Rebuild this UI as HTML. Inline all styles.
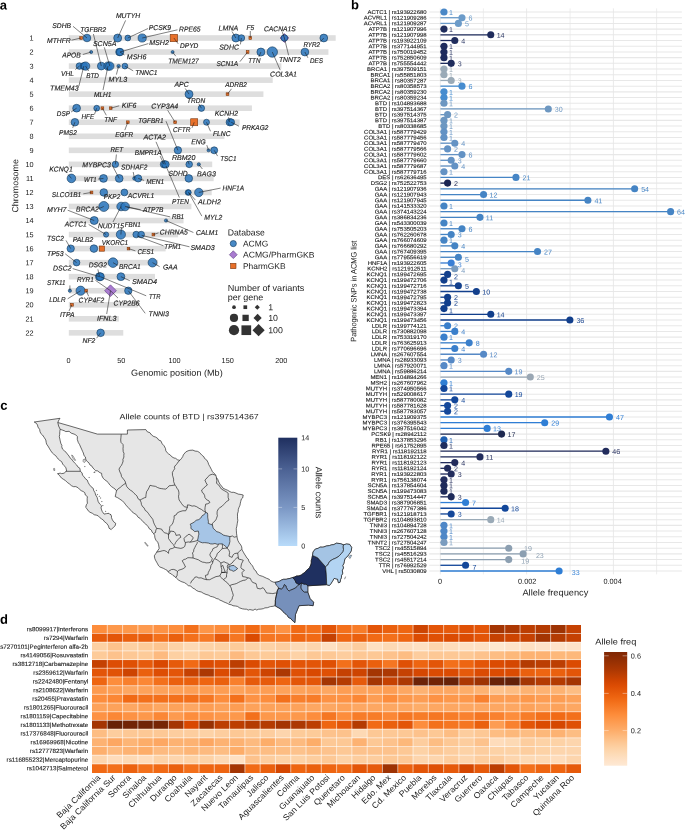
<!DOCTYPE html>
<html><head><meta charset="utf-8"><title>Figure</title>
<style>
html,body{margin:0;padding:0;background:#fff;}
body{width:685px;height:831px;overflow:hidden;font-family:"Liberation Sans",sans-serif;}
svg{display:block;will-change:transform;font-family:"Liberation Sans",sans-serif;fill:#1a1a1a;text-rendering:geometricPrecision;}
</style></head><body>
<svg width="685" height="831" viewBox="0 0 685 831">
<rect width="685" height="831" fill="#fff"/>
<g id="pa">
<text x="-0.3" y="9.5" font-size="13" font-weight="bold" fill="#000" transform="rotate(0.03 -0.3 9.5)">a</text>
<g fill="#dedede">
<rect x="68.8" y="35.2" width="266.89" height="5.6"/>
<rect x="68.8" y="49.24" width="259.63" height="5.6"/>
<rect x="68.8" y="63.28" width="212.58" height="5.6"/>
<rect x="68.8" y="77.32" width="203.91" height="5.6"/>
<rect x="68.8" y="91.36" width="194.61" height="5.6"/>
<rect x="68.8" y="105.4" width="183.11" height="5.6"/>
<rect x="68.8" y="119.44" width="170.82" height="5.6"/>
<rect x="68.8" y="133.48" width="155.59" height="5.6"/>
<rect x="68.8" y="147.52" width="148.35" height="5.6"/>
<rect x="68.8" y="161.56" width="143.43" height="5.6"/>
<rect x="68.8" y="175.6" width="144.82" height="5.6"/>
<rect x="68.8" y="189.64" width="142.88" height="5.6"/>
<rect x="68.8" y="203.68" width="122.59" height="5.6"/>
<rect x="68.8" y="217.72" width="114.75" height="5.6"/>
<rect x="68.8" y="231.76" width="109.33" height="5.6"/>
<rect x="68.8" y="245.8" width="96.84" height="5.6"/>
<rect x="68.8" y="259.84" width="89.25" height="5.6"/>
<rect x="68.8" y="273.88" width="86.16" height="5.6"/>
<rect x="68.8" y="287.92" width="62.84" height="5.6"/>
<rect x="68.8" y="301.96" width="69.08" height="5.6"/>
<rect x="68.8" y="316" width="50.07" height="5.6"/>
<rect x="68.8" y="330.04" width="54.48" height="5.6"/>
</g>
<g font-size="7.3" text-anchor="end">
<text x="33.6" y="40.6" transform="rotate(0.03 33.6 40.6)">1</text>
<text x="33.6" y="54.64" transform="rotate(0.03 33.6 54.64)">2</text>
<text x="33.6" y="68.68" transform="rotate(0.03 33.6 68.68)">3</text>
<text x="33.6" y="82.72" transform="rotate(0.03 33.6 82.72)">4</text>
<text x="33.6" y="96.76" transform="rotate(0.03 33.6 96.76)">5</text>
<text x="33.6" y="110.8" transform="rotate(0.03 33.6 110.8)">6</text>
<text x="33.6" y="124.84" transform="rotate(0.03 33.6 124.84)">7</text>
<text x="33.6" y="138.88" transform="rotate(0.03 33.6 138.88)">8</text>
<text x="33.6" y="152.92" transform="rotate(0.03 33.6 152.92)">9</text>
<text x="33.6" y="166.96" transform="rotate(0.03 33.6 166.96)">10</text>
<text x="33.6" y="181" transform="rotate(0.03 33.6 181)">11</text>
<text x="33.6" y="195.04" transform="rotate(0.03 33.6 195.04)">12</text>
<text x="33.6" y="209.08" transform="rotate(0.03 33.6 209.08)">13</text>
<text x="33.6" y="223.12" transform="rotate(0.03 33.6 223.12)">14</text>
<text x="33.6" y="237.16" transform="rotate(0.03 33.6 237.16)">15</text>
<text x="33.6" y="251.2" transform="rotate(0.03 33.6 251.2)">16</text>
<text x="33.6" y="265.24" transform="rotate(0.03 33.6 265.24)">17</text>
<text x="33.6" y="279.28" transform="rotate(0.03 33.6 279.28)">18</text>
<text x="33.6" y="293.32" transform="rotate(0.03 33.6 293.32)">19</text>
<text x="33.6" y="307.36" transform="rotate(0.03 33.6 307.36)">20</text>
<text x="33.6" y="321.4" transform="rotate(0.03 33.6 321.4)">21</text>
<text x="33.6" y="335.44" transform="rotate(0.03 33.6 335.44)">22</text>
</g>
<text x="18.2" y="185.8" font-size="8.8" text-anchor="middle" textLength="53.6" lengthAdjust="spacingAndGlyphs" transform="rotate(-89.97 18.2 185.8)">Chromosome</text>
<g font-size="7.3" text-anchor="middle">
<text x="68.5" y="363" transform="rotate(0.03 68.5 363)">0</text>
<text x="121.3" y="363" transform="rotate(0.03 121.3 363)">50</text>
<text x="174.5" y="363" transform="rotate(0.03 174.5 363)">100</text>
<text x="227.7" y="363" transform="rotate(0.03 227.7 363)">150</text>
<text x="281.3" y="363" transform="rotate(0.03 281.3 363)">200</text>
</g>
<text x="176.9" y="375.8" font-size="8.8" text-anchor="middle" textLength="91.6" lengthAdjust="spacingAndGlyphs" transform="rotate(0.03 176.9 375.8)">Genomic position (Mb)</text>
<rect x="79.75" y="36.65" width="2.7" height="2.7" fill="#e8702a" stroke="#7a3a12" stroke-width="0.6"/>
<circle cx="87" cy="38" r="3.8" fill="#2a76bd" stroke="#0f3558" stroke-width="0.6" fill-opacity="0.86"/>
<circle cx="117.7" cy="38" r="4" fill="#2a76bd" stroke="#0f3558" stroke-width="0.6" fill-opacity="0.86"/>
<circle cx="127.8" cy="38" r="2.9" fill="#2a76bd" stroke="#0f3558" stroke-width="0.6" fill-opacity="0.86"/>
<circle cx="142.2" cy="38" r="4.1" fill="#2a76bd" stroke="#0f3558" stroke-width="0.6" fill-opacity="0.86"/>
<rect x="170.2" y="34.3" width="7.4" height="7.4" fill="#e8702a" stroke="#7a3a12" stroke-width="0.6"/>
<circle cx="235.9" cy="38" r="4" fill="#2a76bd" stroke="#0f3558" stroke-width="0.6" fill-opacity="0.86"/>
<circle cx="241.4" cy="38" r="3.3" fill="#2a76bd" stroke="#0f3558" stroke-width="0.6" fill-opacity="0.86"/>
<rect x="248.95" y="36.65" width="2.7" height="2.7" fill="#e8702a" stroke="#7a3a12" stroke-width="0.6"/>
<path d="M284.4 33.6L288.8 38L284.4 42.4L280 38z" fill="#a97bd0" stroke="#5b3a80" stroke-width="0.6"/>
<circle cx="284.4" cy="38" r="3.3" fill="#2a76bd" stroke="#0f3558" stroke-width="0.6" fill-opacity="0.86"/>
<circle cx="323.8" cy="38" r="3.9" fill="#2a76bd" stroke="#0f3558" stroke-width="0.6" fill-opacity="0.86"/>
<circle cx="91.2" cy="52.04" r="1.5" fill="#2a76bd" stroke="#0f3558" stroke-width="0.6" fill-opacity="0.86"/>
<circle cx="119.4" cy="52.04" r="3.7" fill="#2a76bd" stroke="#0f3558" stroke-width="0.6" fill-opacity="0.86"/>
<circle cx="120.1" cy="52.04" r="3.7" fill="#2a76bd" stroke="#0f3558" stroke-width="0.6" fill-opacity="0.86"/>
<circle cx="172.6" cy="52.04" r="1.5" fill="#2a76bd" stroke="#0f3558" stroke-width="0.6" fill-opacity="0.86"/>
<rect x="246.25" y="50.69" width="2.7" height="2.7" fill="#e8702a" stroke="#7a3a12" stroke-width="0.6"/>
<circle cx="260.9" cy="52.04" r="4" fill="#2a76bd" stroke="#0f3558" stroke-width="0.6" fill-opacity="0.86"/>
<circle cx="272.3" cy="52.04" r="5.2" fill="#2a76bd" stroke="#0f3558" stroke-width="0.6" fill-opacity="0.86"/>
<circle cx="304.9" cy="52.04" r="3.9" fill="#2a76bd" stroke="#0f3558" stroke-width="0.6" fill-opacity="0.86"/>
<circle cx="79.4" cy="66.08" r="3.3" fill="#2a76bd" stroke="#0f3558" stroke-width="0.6" fill-opacity="0.86"/>
<circle cx="83.8" cy="66.08" r="3.6" fill="#2a76bd" stroke="#0f3558" stroke-width="0.6" fill-opacity="0.86"/>
<circle cx="85.6" cy="66.08" r="4.2" fill="#2a76bd" stroke="#0f3558" stroke-width="0.6" fill-opacity="0.86"/>
<circle cx="101.3" cy="66.08" r="3.9" fill="#2a76bd" stroke="#0f3558" stroke-width="0.6" fill-opacity="0.86"/>
<circle cx="108" cy="66.08" r="4.2" fill="#2a76bd" stroke="#0f3558" stroke-width="0.6" fill-opacity="0.86"/>
<circle cx="109.8" cy="66.08" r="4.2" fill="#2a76bd" stroke="#0f3558" stroke-width="0.6" fill-opacity="0.86"/>
<circle cx="118.6" cy="66.08" r="1.7" fill="#2a76bd" stroke="#0f3558" stroke-width="0.6" fill-opacity="0.86"/>
<circle cx="124.9" cy="66.08" r="2.9" fill="#2a76bd" stroke="#0f3558" stroke-width="0.6" fill-opacity="0.86"/>
<circle cx="189" cy="94.16" r="4" fill="#2a76bd" stroke="#0f3558" stroke-width="0.6" fill-opacity="0.86"/>
<rect x="226.15" y="92.81" width="2.7" height="2.7" fill="#e8702a" stroke="#7a3a12" stroke-width="0.6"/>
<circle cx="76.6" cy="108.2" r="3.9" fill="#2a76bd" stroke="#0f3558" stroke-width="0.6" fill-opacity="0.86"/>
<circle cx="96.7" cy="108.2" r="2.9" fill="#2a76bd" stroke="#0f3558" stroke-width="0.6" fill-opacity="0.86"/>
<rect x="101.05" y="106.85" width="2.7" height="2.7" fill="#e8702a" stroke="#7a3a12" stroke-width="0.6"/>
<rect x="109.35" y="106.85" width="2.7" height="2.7" fill="#e8702a" stroke="#7a3a12" stroke-width="0.6"/>
<circle cx="201.4" cy="108.2" r="3.2" fill="#2a76bd" stroke="#0f3558" stroke-width="0.6" fill-opacity="0.86"/>
<circle cx="74.9" cy="122.24" r="3.8" fill="#2a76bd" stroke="#0f3558" stroke-width="0.6" fill-opacity="0.86"/>
<rect x="126.45" y="120.89" width="2.7" height="2.7" fill="#e8702a" stroke="#7a3a12" stroke-width="0.6"/>
<rect x="173.75" y="120.89" width="2.7" height="2.7" fill="#e8702a" stroke="#7a3a12" stroke-width="0.6"/>
<rect x="190.7" y="118.74" width="7" height="7" fill="#e8702a" stroke="#7a3a12" stroke-width="0.6"/>
<circle cx="206.5" cy="122.24" r="3" fill="#2a76bd" stroke="#0f3558" stroke-width="0.6" fill-opacity="0.86"/>
<circle cx="229.8" cy="122.24" r="3.7" fill="#2a76bd" stroke="#0f3558" stroke-width="0.6" fill-opacity="0.86"/>
<circle cx="231.2" cy="122.24" r="3.4" fill="#2a76bd" stroke="#0f3558" stroke-width="0.6" fill-opacity="0.86"/>
<circle cx="177.9" cy="150.32" r="3.7" fill="#2a76bd" stroke="#0f3558" stroke-width="0.6" fill-opacity="0.86"/>
<circle cx="208.5" cy="150.32" r="1.5" fill="#2a76bd" stroke="#0f3558" stroke-width="0.6" fill-opacity="0.86"/>
<circle cx="214.2" cy="150.32" r="3.5" fill="#2a76bd" stroke="#0f3558" stroke-width="0.6" fill-opacity="0.86"/>
<circle cx="115.4" cy="164.36" r="3.2" fill="#2a76bd" stroke="#0f3558" stroke-width="0.6" fill-opacity="0.86"/>
<circle cx="164" cy="164.36" r="3.7" fill="#2a76bd" stroke="#0f3558" stroke-width="0.6" fill-opacity="0.86"/>
<circle cx="165.5" cy="164.36" r="3.7" fill="#2a76bd" stroke="#0f3558" stroke-width="0.6" fill-opacity="0.86"/>
<circle cx="189.2" cy="164.36" r="3.3" fill="#2a76bd" stroke="#0f3558" stroke-width="0.6" fill-opacity="0.86"/>
<circle cx="198.8" cy="164.36" r="1.6" fill="#2a76bd" stroke="#0f3558" stroke-width="0.6" fill-opacity="0.86"/>
<circle cx="71.4" cy="178.4" r="4.3" fill="#2a76bd" stroke="#0f3558" stroke-width="0.6" fill-opacity="0.86"/>
<circle cx="103.5" cy="178.4" r="3.9" fill="#2a76bd" stroke="#0f3558" stroke-width="0.6" fill-opacity="0.86"/>
<circle cx="119.2" cy="178.4" r="3.9" fill="#2a76bd" stroke="#0f3558" stroke-width="0.6" fill-opacity="0.86"/>
<circle cx="134.5" cy="178.4" r="1.8" fill="#2a76bd" stroke="#0f3558" stroke-width="0.6" fill-opacity="0.86"/>
<circle cx="138.2" cy="178.4" r="3.6" fill="#2a76bd" stroke="#0f3558" stroke-width="0.6" fill-opacity="0.86"/>
<circle cx="188.8" cy="178.4" r="3.8" fill="#2a76bd" stroke="#0f3558" stroke-width="0.6" fill-opacity="0.86"/>
<rect x="90.15" y="191.09" width="2.7" height="2.7" fill="#e8702a" stroke="#7a3a12" stroke-width="0.6"/>
<circle cx="103.8" cy="192.44" r="3.8" fill="#2a76bd" stroke="#0f3558" stroke-width="0.6" fill-opacity="0.86"/>
<circle cx="124.4" cy="192.44" r="3.4" fill="#2a76bd" stroke="#0f3558" stroke-width="0.6" fill-opacity="0.86"/>
<circle cx="188" cy="192.44" r="2.8" fill="#2a76bd" stroke="#0f3558" stroke-width="0.6" fill-opacity="0.86"/>
<circle cx="188.6" cy="192.44" r="2.6" fill="#2a76bd" stroke="#0f3558" stroke-width="0.6" fill-opacity="0.86"/>
<circle cx="198.8" cy="192.44" r="4.2" fill="#2a76bd" stroke="#0f3558" stroke-width="0.6" fill-opacity="0.86"/>
<circle cx="103.8" cy="206.48" r="5" fill="#2a76bd" stroke="#0f3558" stroke-width="0.6" fill-opacity="0.86"/>
<circle cx="121.1" cy="206.48" r="4.3" fill="#2a76bd" stroke="#0f3558" stroke-width="0.6" fill-opacity="0.86"/>
<circle cx="125.1" cy="206.48" r="4.3" fill="#2a76bd" stroke="#0f3558" stroke-width="0.6" fill-opacity="0.86"/>
<circle cx="94.2" cy="220.52" r="4" fill="#2a76bd" stroke="#0f3558" stroke-width="0.6" fill-opacity="0.86"/>
<circle cx="166" cy="220.52" r="1.6" fill="#2a76bd" stroke="#0f3558" stroke-width="0.6" fill-opacity="0.86"/>
<circle cx="106.1" cy="234.56" r="2.6" fill="#2a76bd" stroke="#0f3558" stroke-width="0.6" fill-opacity="0.86"/>
<circle cx="120.9" cy="234.56" r="4.6" fill="#2a76bd" stroke="#0f3558" stroke-width="0.6" fill-opacity="0.86"/>
<circle cx="136.2" cy="234.56" r="3.3" fill="#2a76bd" stroke="#0f3558" stroke-width="0.6" fill-opacity="0.86"/>
<circle cx="141.2" cy="234.56" r="3.3" fill="#2a76bd" stroke="#0f3558" stroke-width="0.6" fill-opacity="0.86"/>
<rect x="152.05" y="233.21" width="2.7" height="2.7" fill="#e8702a" stroke="#7a3a12" stroke-width="0.6"/>
<circle cx="70.7" cy="248.6" r="3.7" fill="#2a76bd" stroke="#0f3558" stroke-width="0.6" fill-opacity="0.86"/>
<circle cx="93.9" cy="248.6" r="3.8" fill="#2a76bd" stroke="#0f3558" stroke-width="0.6" fill-opacity="0.86"/>
<rect x="99.3" y="246" width="5.2" height="5.2" fill="#e8702a" stroke="#7a3a12" stroke-width="0.6"/>
<rect x="127.2" y="247.3" width="2.6" height="2.6" fill="#e8702a" stroke="#7a3a12" stroke-width="0.6"/>
<circle cx="76.6" cy="262.64" r="3.3" fill="#2a76bd" stroke="#0f3558" stroke-width="0.6" fill-opacity="0.86"/>
<circle cx="113" cy="262.64" r="4.8" fill="#2a76bd" stroke="#0f3558" stroke-width="0.6" fill-opacity="0.86"/>
<circle cx="152.5" cy="262.64" r="4.4" fill="#2a76bd" stroke="#0f3558" stroke-width="0.6" fill-opacity="0.86"/>
<circle cx="99.5" cy="276.68" r="4" fill="#2a76bd" stroke="#0f3558" stroke-width="0.6" fill-opacity="0.86"/>
<circle cx="100.3" cy="276.68" r="4" fill="#2a76bd" stroke="#0f3558" stroke-width="0.6" fill-opacity="0.86"/>
<circle cx="120.9" cy="276.68" r="3.9" fill="#2a76bd" stroke="#0f3558" stroke-width="0.6" fill-opacity="0.86"/>
<circle cx="69.9" cy="290.72" r="1.6" fill="#2a76bd" stroke="#0f3558" stroke-width="0.6" fill-opacity="0.86"/>
<circle cx="80.6" cy="290.72" r="4.6" fill="#2a76bd" stroke="#0f3558" stroke-width="0.6" fill-opacity="0.86"/>
<rect x="84.9" y="289.42" width="2.6" height="2.6" fill="#e8702a" stroke="#7a3a12" stroke-width="0.6"/>
<path d="M110.5 284.82L116.4 290.72L110.5 296.62L104.6 290.72z" fill="#a97bd0" stroke="#5b3a80" stroke-width="0.6"/>
<circle cx="128.3" cy="290.72" r="3.7" fill="#2a76bd" stroke="#0f3558" stroke-width="0.6" fill-opacity="0.86"/>
<rect x="70.5" y="303.36" width="2.8" height="2.8" fill="#e8702a" stroke="#7a3a12" stroke-width="0.6"/>
<circle cx="100.6" cy="332.84" r="3.8" fill="#2a76bd" stroke="#0f3558" stroke-width="0.6" fill-opacity="0.86"/>
<g stroke="#1a1a1a" stroke-width="0.55" fill="none">
<path d="M73 26.3L87 38"/>
<path d="M71.5 40.2L81.1 38"/>
<path d="M125.6 20.4L117.7 38"/>
<path d="M93.4 34L101.3 66.08"/>
<path d="M104.3 47.3L109.8 66.08"/>
<path d="M82.8 54.5L91.2 52.04"/>
<path d="M124.5 55L120.1 52.04"/>
<path d="M148.3 43.6L120.1 52.04"/>
<path d="M148 28.5L127.8 38"/>
<path d="M177.5 29.8L142.2 38"/>
<path d="M178.2 43.8L173.9 38"/>
<path d="M175.8 56.2L172.6 52.04"/>
<path d="M232 31.5L235.9 38"/>
<path d="M240.4 44.4L241.4 38"/>
<path d="M250.3 31L250.3 38"/>
<path d="M239.9 61.7L247.6 52.04"/>
<path d="M258.9 57L260.9 52.04"/>
<path d="M282.4 32.2L284.4 38"/>
<path d="M288.6 55.3L284.4 38"/>
<path d="M320.5 41.6L323.8 38"/>
<path d="M280.2 70.1L272.3 52.04"/>
<path d="M307.9 57.8L304.9 52.04"/>
<path d="M75.3 69.6L79.4 66.08"/>
<path d="M88.7 71L85.6 66.08"/>
<path d="M133.2 70.8L124.9 66.08"/>
<path d="M116.4 74.6L118.6 66.08"/>
<path d="M78.9 86L83.8 66.08"/>
<path d="M103 90.1L108 66.08"/>
<path d="M185.3 88.5L189 94.16"/>
<path d="M231.5 88.8L227.5 94.16"/>
<path d="M198.8 103.8L201.4 108.2"/>
<path d="M71.1 112L76.6 108.2"/>
<path d="M94.6 114L96.7 108.2"/>
<path d="M106.3 115.3L102.4 108.2"/>
<path d="M119.2 105.8L110.7 108.2"/>
<path d="M167.7 110.3L175.1 122.24"/>
<path d="M72.7 127.9L74.9 122.24"/>
<path d="M124.8 130.1L127.8 122.24"/>
<path d="M166 121.2L177.9 150.32"/>
<path d="M192 127.9L194.2 122.24"/>
<path d="M210.5 131.3L206.5 122.24"/>
<path d="M228.5 117.3L229.8 122.24"/>
<path d="M239 126.2L231.2 122.24"/>
<path d="M156 141.8L165.5 164.36"/>
<path d="M206.8 145.1L208.5 150.32"/>
<path d="M217.6 156.1L214.2 150.32"/>
<path d="M116.4 154.5L115.4 164.36"/>
<path d="M160.1 156L164 164.36"/>
<path d="M187.8 161.1L189.2 164.36"/>
<path d="M202.4 169L198.8 164.36"/>
<path d="M68.2 174.5L71.4 178.4"/>
<path d="M97.9 179.1L103.5 178.4"/>
<path d="M112.2 165.3L119.2 178.4"/>
<path d="M133.2 172L134.5 178.4"/>
<path d="M144.1 180.4L138.2 178.4"/>
<path d="M83.3 193.8L91.5 192.44"/>
<path d="M220.6 188.1L198.8 192.44"/>
<path d="M166 166L179.4 197.6"/>
<path d="M195.4 200.1L188.6 192.44"/>
<path d="M201.8 216.1L188.6 192.44"/>
<path d="M99.1 208.5L103.8 206.48"/>
<path d="M113 222L121.1 206.48"/>
<path d="M140.7 209.7L125.1 206.48"/>
<path d="M126.5 206.9L170.2 216.9"/>
<path d="M67.7 210.2L94.2 220.52"/>
<path d="M88.7 224.5L106.1 234.56"/>
<path d="M121.4 227.8L120.9 234.56"/>
<path d="M193.4 232.5L166 220.52"/>
<path d="M158.5 232.9L153.4 234.56"/>
<path d="M137 236L163.5 245.8"/>
<path d="M141.7 235.4L189.5 246.8"/>
<path d="M66 240.4L70.7 248.6"/>
<path d="M135.4 250.9L128.5 248.6"/>
<path d="M65.2 253.8L76.6 262.64"/>
<path d="M117.5 265.2L113 262.64"/>
<path d="M159.6 266.6L152.5 262.64"/>
<path d="M97.9 269.4L99.5 276.68"/>
<path d="M72.7 268.6L99.5 276.68"/>
<path d="M129.8 280.7L120.9 276.68"/>
<path d="M95.4 280.3L110.5 290.72"/>
<path d="M146.2 295.8L100.3 276.68"/>
<path d="M69.9 285.4L69.9 290.72"/>
<path d="M67.7 298.8L80.6 290.72"/>
<path d="M88.7 296.3L86.2 290.72"/>
<path d="M118 298.1L110.5 290.72"/>
<path d="M145.2 313.3L128.3 290.72"/>
<path d="M106.7 314L110.5 290.72"/>
<path d="M69 311L71.9 304.76"/>
<path d="M96.6 338.2L100.6 332.84"/>
</g>
<g font-size="7" font-style="italic" stroke="#1a1a1a" stroke-width="0.14">
<text x="52.3" y="27.9" textLength="18.7" lengthAdjust="spacingAndGlyphs" transform="rotate(0.03 52.3 27.9)">SDHB</text>
<text x="47" y="43" textLength="23.7" lengthAdjust="spacingAndGlyphs" transform="rotate(0.03 47 43)">MTHFR</text>
<text x="115.9" y="18" textLength="24.3" lengthAdjust="spacingAndGlyphs" transform="rotate(0.03 115.9 18)">MUTYH</text>
<text x="80.3" y="32.1" textLength="26" lengthAdjust="spacingAndGlyphs" transform="rotate(0.03 80.3 32.1)">TGFBR2</text>
<text x="92.9" y="46.1" textLength="23.5" lengthAdjust="spacingAndGlyphs" transform="rotate(0.03 92.9 46.1)">SCN5A</text>
<text x="62.2" y="57.5" textLength="18.6" lengthAdjust="spacingAndGlyphs" transform="rotate(0.03 62.2 57.5)">APOB</text>
<text x="126.8" y="59.2" textLength="19.5" lengthAdjust="spacingAndGlyphs" transform="rotate(0.03 126.8 59.2)">MSH6</text>
<text x="149.2" y="44.9" textLength="19.7" lengthAdjust="spacingAndGlyphs" transform="rotate(0.03 149.2 44.9)">MSH2</text>
<text x="148.7" y="30.1" textLength="22.3" lengthAdjust="spacingAndGlyphs" transform="rotate(0.03 148.7 30.1)">PCSK9</text>
<text x="179" y="31.5" textLength="21.4" lengthAdjust="spacingAndGlyphs" transform="rotate(0.03 179 31.5)">RPE65</text>
<text x="180" y="48.1" textLength="18.4" lengthAdjust="spacingAndGlyphs" transform="rotate(0.03 180 48.1)">DPYD</text>
<text x="168.2" y="63.4" textLength="30.6" lengthAdjust="spacingAndGlyphs" transform="rotate(0.03 168.2 63.4)">TMEM127</text>
<text x="218.6" y="30.6" textLength="19.6" lengthAdjust="spacingAndGlyphs" transform="rotate(0.03 218.6 30.6)">LMNA</text>
<text x="219.2" y="49.4" textLength="19.8" lengthAdjust="spacingAndGlyphs" transform="rotate(0.03 219.2 49.4)">SDHC</text>
<text x="246.6" y="29.8" textLength="7.6" lengthAdjust="spacingAndGlyphs" transform="rotate(0.03 246.6 29.8)">F5</text>
<text x="216.4" y="65.9" textLength="21.8" lengthAdjust="spacingAndGlyphs" transform="rotate(0.03 216.4 65.9)">SCN1A</text>
<text x="248.3" y="63.4" textLength="12.1" lengthAdjust="spacingAndGlyphs" transform="rotate(0.03 248.3 63.4)">TTN</text>
<text x="263.9" y="31.3" textLength="31.9" lengthAdjust="spacingAndGlyphs" transform="rotate(0.03 263.9 31.3)">CACNA1S</text>
<text x="278.9" y="62" textLength="21.9" lengthAdjust="spacingAndGlyphs" transform="rotate(0.03 278.9 62)">TNNT2</text>
<text x="303.4" y="46.6" textLength="16.6" lengthAdjust="spacingAndGlyphs" transform="rotate(0.03 303.4 46.6)">RYR2</text>
<text x="270.1" y="76.6" textLength="26.9" lengthAdjust="spacingAndGlyphs" transform="rotate(0.03 270.1 76.6)">COL3A1</text>
<text x="309.9" y="63.2" textLength="13.1" lengthAdjust="spacingAndGlyphs" transform="rotate(0.03 309.9 63.2)">DES</text>
<text x="61" y="76" textLength="13" lengthAdjust="spacingAndGlyphs" transform="rotate(0.03 61 76)">VHL</text>
<text x="86.2" y="78.2" textLength="12.8" lengthAdjust="spacingAndGlyphs" transform="rotate(0.03 86.2 78.2)">BTD</text>
<text x="135.2" y="74.9" textLength="22.3" lengthAdjust="spacingAndGlyphs" transform="rotate(0.03 135.2 74.9)">TNNC1</text>
<text x="108.5" y="81.7" textLength="18.6" lengthAdjust="spacingAndGlyphs" transform="rotate(0.03 108.5 81.7)">MYL3</text>
<text x="50.1" y="90.6" textLength="28.5" lengthAdjust="spacingAndGlyphs" transform="rotate(0.03 50.1 90.6)">TMEM43</text>
<text x="94" y="96.5" textLength="17.3" lengthAdjust="spacingAndGlyphs" transform="rotate(0.03 94 96.5)">MLH1</text>
<text x="174.4" y="86.8" textLength="14.3" lengthAdjust="spacingAndGlyphs" transform="rotate(0.03 174.4 86.8)">APC</text>
<text x="225.3" y="86.8" textLength="21.6" lengthAdjust="spacingAndGlyphs" transform="rotate(0.03 225.3 86.8)">ADRB2</text>
<text x="187" y="103.2" textLength="18.1" lengthAdjust="spacingAndGlyphs" transform="rotate(0.03 187 103.2)">TRDN</text>
<text x="56.8" y="115.8" textLength="13.1" lengthAdjust="spacingAndGlyphs" transform="rotate(0.03 56.8 115.8)">DSP</text>
<text x="81.5" y="119" textLength="12.7" lengthAdjust="spacingAndGlyphs" transform="rotate(0.03 81.5 119)">HFE</text>
<text x="104.3" y="121.7" textLength="12.6" lengthAdjust="spacingAndGlyphs" transform="rotate(0.03 104.3 121.7)">TNF</text>
<text x="121.8" y="107.8" textLength="14.7" lengthAdjust="spacingAndGlyphs" transform="rotate(0.03 121.8 107.8)">KIF6</text>
<text x="151.2" y="108.6" textLength="27.1" lengthAdjust="spacingAndGlyphs" transform="rotate(0.03 151.2 108.6)">CYP3A4</text>
<text x="59" y="134.9" textLength="17.9" lengthAdjust="spacingAndGlyphs" transform="rotate(0.03 59 134.9)">PMS2</text>
<text x="115.2" y="137.1" textLength="18" lengthAdjust="spacingAndGlyphs" transform="rotate(0.03 115.2 137.1)">EGFR</text>
<text x="138.2" y="123.4" textLength="25.3" lengthAdjust="spacingAndGlyphs" transform="rotate(0.03 138.2 123.4)">TGFBR1</text>
<text x="173" y="132.4" textLength="17.4" lengthAdjust="spacingAndGlyphs" transform="rotate(0.03 173 132.4)">CFTR</text>
<text x="213" y="136" textLength="17.6" lengthAdjust="spacingAndGlyphs" transform="rotate(0.03 213 136)">FLNC</text>
<text x="214.7" y="115.8" textLength="23.5" lengthAdjust="spacingAndGlyphs" transform="rotate(0.03 214.7 115.8)">KCNH2</text>
<text x="241.9" y="130.1" textLength="26.6" lengthAdjust="spacingAndGlyphs" transform="rotate(0.03 241.9 130.1)">PRKAG2</text>
<text x="143.4" y="139.6" textLength="22.6" lengthAdjust="spacingAndGlyphs" transform="rotate(0.03 143.4 139.6)">ACTA2</text>
<text x="191.2" y="144.3" textLength="14.6" lengthAdjust="spacingAndGlyphs" transform="rotate(0.03 191.2 144.3)">ENG</text>
<text x="220.2" y="161.1" textLength="16.3" lengthAdjust="spacingAndGlyphs" transform="rotate(0.03 220.2 161.1)">TSC1</text>
<text x="110.5" y="152.3" textLength="12.6" lengthAdjust="spacingAndGlyphs" transform="rotate(0.03 110.5 152.3)">RET</text>
<text x="134.8" y="154.7" textLength="26.7" lengthAdjust="spacingAndGlyphs" transform="rotate(0.03 134.8 154.7)">BMPR1A</text>
<text x="171.9" y="159.9" textLength="23.5" lengthAdjust="spacingAndGlyphs" transform="rotate(0.03 171.9 159.9)">RBM20</text>
<text x="197.1" y="176.2" textLength="18.8" lengthAdjust="spacingAndGlyphs" transform="rotate(0.03 197.1 176.2)">BAG3</text>
<text x="168.5" y="175.8" textLength="19.3" lengthAdjust="spacingAndGlyphs" transform="rotate(0.03 168.5 175.8)">SDHD</text>
<text x="49.2" y="171.5" textLength="23.5" lengthAdjust="spacingAndGlyphs" transform="rotate(0.03 49.2 171.5)">KCNQ1</text>
<text x="84" y="182.1" textLength="12.7" lengthAdjust="spacingAndGlyphs" transform="rotate(0.03 84 182.1)">WT1</text>
<text x="82.3" y="167.3" textLength="28.5" lengthAdjust="spacingAndGlyphs" transform="rotate(0.03 82.3 167.3)">MYBPC3</text>
<text x="121.1" y="169.5" textLength="26.3" lengthAdjust="spacingAndGlyphs" transform="rotate(0.03 121.1 169.5)">SDHAF2</text>
<text x="146.2" y="184.2" textLength="17.8" lengthAdjust="spacingAndGlyphs" transform="rotate(0.03 146.2 184.2)">MEN1</text>
<text x="51.8" y="196.8" textLength="29.3" lengthAdjust="spacingAndGlyphs" transform="rotate(0.03 51.8 196.8)">SLCO1B1</text>
<text x="103.8" y="199.3" textLength="16.4" lengthAdjust="spacingAndGlyphs" transform="rotate(0.03 103.8 199.3)">PKP2</text>
<text x="127.8" y="198.1" textLength="26.4" lengthAdjust="spacingAndGlyphs" transform="rotate(0.03 127.8 198.1)">ACVRL1</text>
<text x="222.6" y="190.5" textLength="21.5" lengthAdjust="spacingAndGlyphs" transform="rotate(0.03 222.6 190.5)">HNF1A</text>
<text x="171.9" y="203.8" textLength="17.1" lengthAdjust="spacingAndGlyphs" transform="rotate(0.03 171.9 203.8)">PTEN</text>
<text x="197.9" y="204.3" textLength="23" lengthAdjust="spacingAndGlyphs" transform="rotate(0.03 197.9 204.3)">ALDH2</text>
<text x="204.3" y="219.8" textLength="18" lengthAdjust="spacingAndGlyphs" transform="rotate(0.03 204.3 219.8)">MYL2</text>
<text x="76.1" y="211.5" textLength="22.7" lengthAdjust="spacingAndGlyphs" transform="rotate(0.03 76.1 211.5)">BRCA2</text>
<text x="97.9" y="228.2" textLength="26" lengthAdjust="spacingAndGlyphs" transform="rotate(0.03 97.9 228.2)">NUDT15</text>
<text x="143" y="211.9" textLength="20.5" lengthAdjust="spacingAndGlyphs" transform="rotate(0.03 143 211.9)">ATP7B</text>
<text x="171.9" y="219.4" textLength="12.1" lengthAdjust="spacingAndGlyphs" transform="rotate(0.03 171.9 219.4)">RB1</text>
<text x="47" y="211.9" textLength="19.5" lengthAdjust="spacingAndGlyphs" transform="rotate(0.03 47 211.9)">MYH7</text>
<text x="64.8" y="226.5" textLength="21.9" lengthAdjust="spacingAndGlyphs" transform="rotate(0.03 64.8 226.5)">ACTC1</text>
<text x="124.8" y="226.5" textLength="15.9" lengthAdjust="spacingAndGlyphs" transform="rotate(0.03 124.8 226.5)">FBN1</text>
<text x="195.9" y="235" textLength="22.2" lengthAdjust="spacingAndGlyphs" transform="rotate(0.03 195.9 235)">CALM1</text>
<text x="159.8" y="234.5" textLength="28" lengthAdjust="spacingAndGlyphs" transform="rotate(0.03 159.8 234.5)">CHRNA5</text>
<text x="164.3" y="249.4" textLength="16.8" lengthAdjust="spacingAndGlyphs" transform="rotate(0.03 164.3 249.4)">TPM1</text>
<text x="190.4" y="250" textLength="24.3" lengthAdjust="spacingAndGlyphs" transform="rotate(0.03 190.4 250)">SMAD3</text>
<text x="47" y="240.8" textLength="17" lengthAdjust="spacingAndGlyphs" transform="rotate(0.03 47 240.8)">TSC2</text>
<text x="72.7" y="242.1" textLength="20.7" lengthAdjust="spacingAndGlyphs" transform="rotate(0.03 72.7 242.1)">PALB2</text>
<text x="101.8" y="244.9" textLength="26.3" lengthAdjust="spacingAndGlyphs" transform="rotate(0.03 101.8 244.9)">VKORC1</text>
<text x="137.4" y="254" textLength="16.8" lengthAdjust="spacingAndGlyphs" transform="rotate(0.03 137.4 254)">CES1</text>
<text x="47" y="256" textLength="16.5" lengthAdjust="spacingAndGlyphs" transform="rotate(0.03 47 256)">TP53</text>
<text x="118.9" y="269.1" textLength="21.8" lengthAdjust="spacingAndGlyphs" transform="rotate(0.03 118.9 269.1)">BRCA1</text>
<text x="163" y="269.4" textLength="14.6" lengthAdjust="spacingAndGlyphs" transform="rotate(0.03 163 269.4)">GAA</text>
<text x="88.7" y="267.2" textLength="18.4" lengthAdjust="spacingAndGlyphs" transform="rotate(0.03 88.7 267.2)">DSG2</text>
<text x="53.1" y="270.6" textLength="18.5" lengthAdjust="spacingAndGlyphs" transform="rotate(0.03 53.1 270.6)">DSC2</text>
<text x="131.9" y="284" textLength="25.1" lengthAdjust="spacingAndGlyphs" transform="rotate(0.03 131.9 284)">SMAD4</text>
<text x="76.9" y="282" textLength="16.8" lengthAdjust="spacingAndGlyphs" transform="rotate(0.03 76.9 282)">RYR1</text>
<text x="149" y="299.3" textLength="11.4" lengthAdjust="spacingAndGlyphs" transform="rotate(0.03 149 299.3)">TTR</text>
<text x="47" y="285" textLength="18.5" lengthAdjust="spacingAndGlyphs" transform="rotate(0.03 47 285)">STK11</text>
<text x="49.2" y="302.1" textLength="16.3" lengthAdjust="spacingAndGlyphs" transform="rotate(0.03 49.2 302.1)">LDLR</text>
<text x="78.6" y="302.5" textLength="25.7" lengthAdjust="spacingAndGlyphs" transform="rotate(0.03 78.6 302.5)">CYP4F2</text>
<text x="113.5" y="305.6" textLength="26" lengthAdjust="spacingAndGlyphs" transform="rotate(0.03 113.5 305.6)">CYP2B6</text>
<text x="148.6" y="316.2" textLength="20.4" lengthAdjust="spacingAndGlyphs" transform="rotate(0.03 148.6 316.2)">TNNI3</text>
<text x="97" y="320.8" textLength="19.5" lengthAdjust="spacingAndGlyphs" transform="rotate(0.03 97 320.8)">IFNL3</text>
<text x="59.9" y="316.9" textLength="14.5" lengthAdjust="spacingAndGlyphs" transform="rotate(0.03 59.9 316.9)">ITPA</text>
<text x="82.5" y="342.9" textLength="12.9" lengthAdjust="spacingAndGlyphs" transform="rotate(0.03 82.5 342.9)">NF2</text>
</g>
<text x="227.8" y="235.5" font-size="8.8" textLength="37" lengthAdjust="spacingAndGlyphs" transform="rotate(0.03 227.8 235.5)">Database</text>
<circle cx="233.3" cy="243.6" r="3.1" fill="#2a76bd" stroke="#0f3558" stroke-width="0.6" fill-opacity="0.86"/>
<path d="M233.3 250.8L237.2 254.7L233.3 258.6L229.4 254.7z" fill="#a97bd0" stroke="#5b3a80" stroke-width="0.6"/>
<rect x="230.6" y="263.3" width="5.4" height="5.4" fill="#e8702a" stroke="#7a3a12" stroke-width="0.6"/>
<text x="243" y="246.5" font-size="8.3" textLength="25.3" lengthAdjust="spacingAndGlyphs" transform="rotate(0.03 243 246.5)">ACMG</text>
<text x="243" y="257.6" font-size="8.3" textLength="71.5" lengthAdjust="spacingAndGlyphs" transform="rotate(0.03 243 257.6)">ACMG/PharmGKB</text>
<text x="243" y="268.9" font-size="8.3" textLength="42.5" lengthAdjust="spacingAndGlyphs" transform="rotate(0.03 243 268.9)">PharmGKB</text>
<text x="227.8" y="290.9" font-size="8.8" textLength="76.5" lengthAdjust="spacingAndGlyphs" transform="rotate(0.03 227.8 290.9)">Number of variants</text>
<text x="227.8" y="300.3" font-size="8.8" textLength="35.5" lengthAdjust="spacingAndGlyphs" transform="rotate(0.03 227.8 300.3)">per gene</text>
<circle cx="234" cy="307.2" r="1.85" fill="#333333" stroke="#333333" stroke-width="0"/>
<rect x="243.45" y="305.35" width="3.7" height="3.7" fill="#333333" stroke="#333333" stroke-width="0"/>
<path d="M257.3 304.65L259.85 307.2L257.3 309.75L254.75 307.2z" fill="#333333" stroke="#333333" stroke-width="0"/>
<text x="268.2" y="310.3" font-size="8.8" transform="rotate(0.03 268.2 310.3)">1</text>
<circle cx="234" cy="317.9" r="4.1" fill="#333333" stroke="#333333" stroke-width="0"/>
<rect x="242.45" y="314.75" width="6.3" height="6.3" fill="#333333" stroke="#333333" stroke-width="0"/>
<path d="M257.6 313.8L261.7 317.9L257.6 322L253.5 317.9z" fill="#333333" stroke="#333333" stroke-width="0"/>
<text x="268.2" y="321" font-size="8.8" transform="rotate(0.03 268.2 321)">10</text>
<circle cx="234" cy="330.2" r="5.1" fill="#333333" stroke="#333333" stroke-width="0"/>
<rect x="241.45" y="325.35" width="9.7" height="9.7" fill="#333333" stroke="#333333" stroke-width="0"/>
<path d="M258.6 324.1L264.7 330.2L258.6 336.3L252.5 330.2z" fill="#333333" stroke="#333333" stroke-width="0"/>
<text x="268.2" y="333.3" font-size="8.8" transform="rotate(0.03 268.2 333.3)">100</text>
</g>
<g id="pb">
<text x="351" y="9.2" font-size="13" font-weight="bold" fill="#000" transform="rotate(0.03 351 9.2)">b</text>
<g stroke="#e8e8e8" stroke-width="1.05">
<path d="M429.2 12H681.9"/>
<path d="M429.2 17.7H681.9"/>
<path d="M429.2 23.41H681.9"/>
<path d="M429.2 29.11H681.9"/>
<path d="M429.2 34.82H681.9"/>
<path d="M429.2 40.52H681.9"/>
<path d="M429.2 46.22H681.9"/>
<path d="M429.2 51.93H681.9"/>
<path d="M429.2 57.63H681.9"/>
<path d="M429.2 63.34H681.9"/>
<path d="M429.2 69.04H681.9"/>
<path d="M429.2 74.74H681.9"/>
<path d="M429.2 80.45H681.9"/>
<path d="M429.2 86.15H681.9"/>
<path d="M429.2 91.86H681.9"/>
<path d="M429.2 97.56H681.9"/>
<path d="M429.2 103.26H681.9"/>
<path d="M429.2 108.97H681.9"/>
<path d="M429.2 114.67H681.9"/>
<path d="M429.2 120.38H681.9"/>
<path d="M429.2 126.08H681.9"/>
<path d="M429.2 131.78H681.9"/>
<path d="M429.2 137.49H681.9"/>
<path d="M429.2 143.19H681.9"/>
<path d="M429.2 148.9H681.9"/>
<path d="M429.2 154.6H681.9"/>
<path d="M429.2 160.3H681.9"/>
<path d="M429.2 166.01H681.9"/>
<path d="M429.2 171.71H681.9"/>
<path d="M429.2 177.42H681.9"/>
<path d="M429.2 183.12H681.9"/>
<path d="M429.2 188.82H681.9"/>
<path d="M429.2 194.53H681.9"/>
<path d="M429.2 200.23H681.9"/>
<path d="M429.2 205.94H681.9"/>
<path d="M429.2 211.64H681.9"/>
<path d="M429.2 217.34H681.9"/>
<path d="M429.2 223.05H681.9"/>
<path d="M429.2 228.75H681.9"/>
<path d="M429.2 234.46H681.9"/>
<path d="M429.2 240.16H681.9"/>
<path d="M429.2 245.86H681.9"/>
<path d="M429.2 251.57H681.9"/>
<path d="M429.2 257.27H681.9"/>
<path d="M429.2 262.98H681.9"/>
<path d="M429.2 268.68H681.9"/>
<path d="M429.2 274.38H681.9"/>
<path d="M429.2 280.09H681.9"/>
<path d="M429.2 285.79H681.9"/>
<path d="M429.2 291.5H681.9"/>
<path d="M429.2 297.2H681.9"/>
<path d="M429.2 302.9H681.9"/>
<path d="M429.2 308.61H681.9"/>
<path d="M429.2 314.31H681.9"/>
<path d="M429.2 320.02H681.9"/>
<path d="M429.2 325.72H681.9"/>
<path d="M429.2 331.42H681.9"/>
<path d="M429.2 337.13H681.9"/>
<path d="M429.2 342.83H681.9"/>
<path d="M429.2 348.54H681.9"/>
<path d="M429.2 354.24H681.9"/>
<path d="M429.2 359.94H681.9"/>
<path d="M429.2 365.65H681.9"/>
<path d="M429.2 371.35H681.9"/>
<path d="M429.2 377.06H681.9"/>
<path d="M429.2 382.76H681.9"/>
<path d="M429.2 388.46H681.9"/>
<path d="M429.2 394.17H681.9"/>
<path d="M429.2 399.87H681.9"/>
<path d="M429.2 405.58H681.9"/>
<path d="M429.2 411.28H681.9"/>
<path d="M429.2 416.98H681.9"/>
<path d="M429.2 422.69H681.9"/>
<path d="M429.2 428.39H681.9"/>
<path d="M429.2 434.1H681.9"/>
<path d="M429.2 439.8H681.9"/>
<path d="M429.2 445.5H681.9"/>
<path d="M429.2 451.21H681.9"/>
<path d="M429.2 456.91H681.9"/>
<path d="M429.2 462.62H681.9"/>
<path d="M429.2 468.32H681.9"/>
<path d="M429.2 474.02H681.9"/>
<path d="M429.2 479.73H681.9"/>
<path d="M429.2 485.43H681.9"/>
<path d="M429.2 491.14H681.9"/>
<path d="M429.2 496.84H681.9"/>
<path d="M429.2 502.54H681.9"/>
<path d="M429.2 508.25H681.9"/>
<path d="M429.2 513.95H681.9"/>
<path d="M429.2 519.66H681.9"/>
<path d="M429.2 525.36H681.9"/>
<path d="M429.2 531.06H681.9"/>
<path d="M429.2 536.77H681.9"/>
<path d="M429.2 542.47H681.9"/>
<path d="M429.2 548.18H681.9"/>
<path d="M429.2 553.88H681.9"/>
<path d="M429.2 559.58H681.9"/>
<path d="M429.2 565.29H681.9"/>
<path d="M429.2 570.99H681.9"/>
</g>
<g stroke="#e6e6e6">
<path d="M440.3 8.4V574.4" stroke-width="0.85"/>
<path d="M483.4 8.4V574.4" stroke-width="0.7"/>
<path d="M526.6 8.4V574.4" stroke-width="0.85"/>
<path d="M570.1 8.4V574.4" stroke-width="0.7"/>
<path d="M613.4 8.4V574.4" stroke-width="0.85"/>
<path d="M656.6 8.4V574.4" stroke-width="0.7"/>
</g>
<g font-size="5.5" text-anchor="end" fill="#1c1c1c" stroke="#1c1c1c" stroke-width="0.12">
<text x="426.6" y="13.95" textLength="59.16" lengthAdjust="spacingAndGlyphs" transform="rotate(0.03 426.6 13.95)">ACTC1 | rs193922680</text>
<text x="426.6" y="19.65" textLength="62.8" lengthAdjust="spacingAndGlyphs" transform="rotate(0.03 426.6 19.65)">ACVRL1 | rs121909286</text>
<text x="426.6" y="25.36" textLength="62.8" lengthAdjust="spacingAndGlyphs" transform="rotate(0.03 426.6 25.36)">ACVRL1 | rs121909287</text>
<text x="426.6" y="31.06" textLength="58.06" lengthAdjust="spacingAndGlyphs" transform="rotate(0.03 426.6 31.06)">ATP7B | rs121907996</text>
<text x="426.6" y="36.77" textLength="58.06" lengthAdjust="spacingAndGlyphs" transform="rotate(0.03 426.6 36.77)">ATP7B | rs121907998</text>
<text x="426.6" y="42.47" textLength="58.06" lengthAdjust="spacingAndGlyphs" transform="rotate(0.03 426.6 42.47)">ATP7B | rs193922109</text>
<text x="426.6" y="48.17" textLength="58.06" lengthAdjust="spacingAndGlyphs" transform="rotate(0.03 426.6 48.17)">ATP7B | rs377144951</text>
<text x="426.6" y="53.88" textLength="58.06" lengthAdjust="spacingAndGlyphs" transform="rotate(0.03 426.6 53.88)">ATP7B | rs750019452</text>
<text x="426.6" y="59.58" textLength="58.06" lengthAdjust="spacingAndGlyphs" transform="rotate(0.03 426.6 59.58)">ATP7B | rs752850609</text>
<text x="426.6" y="65.29" textLength="58.06" lengthAdjust="spacingAndGlyphs" transform="rotate(0.03 426.6 65.29)">ATP7B | rs755554442</text>
<text x="426.6" y="70.99" textLength="59.49" lengthAdjust="spacingAndGlyphs" transform="rotate(0.03 426.6 70.99)">BRCA1 | rs397509151</text>
<text x="426.6" y="76.69" textLength="56.18" lengthAdjust="spacingAndGlyphs" transform="rotate(0.03 426.6 76.69)">BRCA1 | rs55851803</text>
<text x="426.6" y="82.4" textLength="56.18" lengthAdjust="spacingAndGlyphs" transform="rotate(0.03 426.6 82.4)">BRCA1 | rs80357287</text>
<text x="426.6" y="88.1" textLength="56.18" lengthAdjust="spacingAndGlyphs" transform="rotate(0.03 426.6 88.1)">BRCA2 | rs80358573</text>
<text x="426.6" y="93.81" textLength="56.18" lengthAdjust="spacingAndGlyphs" transform="rotate(0.03 426.6 93.81)">BRCA2 | rs80359230</text>
<text x="426.6" y="99.51" textLength="56.18" lengthAdjust="spacingAndGlyphs" transform="rotate(0.03 426.6 99.51)">BRCA2 | rs80359234</text>
<text x="426.6" y="105.21" textLength="51.54" lengthAdjust="spacingAndGlyphs" transform="rotate(0.03 426.6 105.21)">BTD | rs104893688</text>
<text x="426.6" y="110.92" textLength="51.54" lengthAdjust="spacingAndGlyphs" transform="rotate(0.03 426.6 110.92)">BTD | rs397514367</text>
<text x="426.6" y="116.62" textLength="51.54" lengthAdjust="spacingAndGlyphs" transform="rotate(0.03 426.6 116.62)">BTD | rs397514375</text>
<text x="426.6" y="122.33" textLength="51.54" lengthAdjust="spacingAndGlyphs" transform="rotate(0.03 426.6 122.33)">BTD | rs397514387</text>
<text x="426.6" y="128.03" textLength="48.23" lengthAdjust="spacingAndGlyphs" transform="rotate(0.03 426.6 128.03)">BTD | rs80338685</text>
<text x="426.6" y="133.73" textLength="62.48" lengthAdjust="spacingAndGlyphs" transform="rotate(0.03 426.6 133.73)">COL3A1 | rs587779429</text>
<text x="426.6" y="139.44" textLength="62.48" lengthAdjust="spacingAndGlyphs" transform="rotate(0.03 426.6 139.44)">COL3A1 | rs587779456</text>
<text x="426.6" y="145.14" textLength="62.48" lengthAdjust="spacingAndGlyphs" transform="rotate(0.03 426.6 145.14)">COL3A1 | rs587779470</text>
<text x="426.6" y="150.85" textLength="62.48" lengthAdjust="spacingAndGlyphs" transform="rotate(0.03 426.6 150.85)">COL3A1 | rs587779566</text>
<text x="426.6" y="156.55" textLength="62.48" lengthAdjust="spacingAndGlyphs" transform="rotate(0.03 426.6 156.55)">COL3A1 | rs587779602</text>
<text x="426.6" y="162.25" textLength="62.48" lengthAdjust="spacingAndGlyphs" transform="rotate(0.03 426.6 162.25)">COL3A1 | rs587779660</text>
<text x="426.6" y="167.96" textLength="62.48" lengthAdjust="spacingAndGlyphs" transform="rotate(0.03 426.6 167.96)">COL3A1 | rs587779687</text>
<text x="426.6" y="173.66" textLength="62.48" lengthAdjust="spacingAndGlyphs" transform="rotate(0.03 426.6 173.66)">COL3A1 | rs587779716</text>
<text x="426.6" y="179.37" textLength="48.57" lengthAdjust="spacingAndGlyphs" transform="rotate(0.03 426.6 179.37)">DES | rs62636495</text>
<text x="426.6" y="185.07" textLength="55.85" lengthAdjust="spacingAndGlyphs" transform="rotate(0.03 426.6 185.07)">DSG2 | rs752522753</text>
<text x="426.6" y="190.77" textLength="51.88" lengthAdjust="spacingAndGlyphs" transform="rotate(0.03 426.6 190.77)">GAA | rs121907936</text>
<text x="426.6" y="196.48" textLength="51.88" lengthAdjust="spacingAndGlyphs" transform="rotate(0.03 426.6 196.48)">GAA | rs121907943</text>
<text x="426.6" y="202.18" textLength="51.88" lengthAdjust="spacingAndGlyphs" transform="rotate(0.03 426.6 202.18)">GAA | rs121907945</text>
<text x="426.6" y="207.89" textLength="51.88" lengthAdjust="spacingAndGlyphs" transform="rotate(0.03 426.6 207.89)">GAA | rs141533320</text>
<text x="426.6" y="213.59" textLength="51.88" lengthAdjust="spacingAndGlyphs" transform="rotate(0.03 426.6 213.59)">GAA | rs374143224</text>
<text x="426.6" y="219.29" textLength="51.88" lengthAdjust="spacingAndGlyphs" transform="rotate(0.03 426.6 219.29)">GAA | rs386834236</text>
<text x="426.6" y="225" textLength="51.88" lengthAdjust="spacingAndGlyphs" transform="rotate(0.03 426.6 225)">GAA | rs543300039</text>
<text x="426.6" y="230.7" textLength="51.88" lengthAdjust="spacingAndGlyphs" transform="rotate(0.03 426.6 230.7)">GAA | rs753505203</text>
<text x="426.6" y="236.41" textLength="51.88" lengthAdjust="spacingAndGlyphs" transform="rotate(0.03 426.6 236.41)">GAA | rs762260678</text>
<text x="426.6" y="242.11" textLength="51.88" lengthAdjust="spacingAndGlyphs" transform="rotate(0.03 426.6 242.11)">GAA | rs766074609</text>
<text x="426.6" y="247.81" textLength="51.88" lengthAdjust="spacingAndGlyphs" transform="rotate(0.03 426.6 247.81)">GAA | rs766680292</text>
<text x="426.6" y="253.52" textLength="51.88" lengthAdjust="spacingAndGlyphs" transform="rotate(0.03 426.6 253.52)">GAA | rs767409395</text>
<text x="426.6" y="259.22" textLength="51.88" lengthAdjust="spacingAndGlyphs" transform="rotate(0.03 426.6 259.22)">GAA | rs779556619</text>
<text x="426.6" y="264.93" textLength="58.83" lengthAdjust="spacingAndGlyphs" transform="rotate(0.03 426.6 264.93)">HNF1A | rs193922605</text>
<text x="426.6" y="270.63" textLength="59.38" lengthAdjust="spacingAndGlyphs" transform="rotate(0.03 426.6 270.63)">KCNH2 | rs121912511</text>
<text x="426.6" y="276.33" textLength="60.15" lengthAdjust="spacingAndGlyphs" transform="rotate(0.03 426.6 276.33)">KCNQ1 | rs199472695</text>
<text x="426.6" y="282.04" textLength="60.15" lengthAdjust="spacingAndGlyphs" transform="rotate(0.03 426.6 282.04)">KCNQ1 | rs199472706</text>
<text x="426.6" y="287.74" textLength="60.15" lengthAdjust="spacingAndGlyphs" transform="rotate(0.03 426.6 287.74)">KCNQ1 | rs199472716</text>
<text x="426.6" y="293.45" textLength="60.15" lengthAdjust="spacingAndGlyphs" transform="rotate(0.03 426.6 293.45)">KCNQ1 | rs199472738</text>
<text x="426.6" y="299.15" textLength="60.15" lengthAdjust="spacingAndGlyphs" transform="rotate(0.03 426.6 299.15)">KCNQ1 | rs199472795</text>
<text x="426.6" y="304.85" textLength="60.15" lengthAdjust="spacingAndGlyphs" transform="rotate(0.03 426.6 304.85)">KCNQ1 | rs199472823</text>
<text x="426.6" y="310.56" textLength="60.15" lengthAdjust="spacingAndGlyphs" transform="rotate(0.03 426.6 310.56)">KCNQ1 | rs199473394</text>
<text x="426.6" y="316.26" textLength="60.15" lengthAdjust="spacingAndGlyphs" transform="rotate(0.03 426.6 316.26)">KCNQ1 | rs199473397</text>
<text x="426.6" y="321.97" textLength="60.15" lengthAdjust="spacingAndGlyphs" transform="rotate(0.03 426.6 321.97)">KCNQ1 | rs199473456</text>
<text x="426.6" y="327.67" textLength="54.86" lengthAdjust="spacingAndGlyphs" transform="rotate(0.03 426.6 327.67)">LDLR | rs199774121</text>
<text x="426.6" y="333.37" textLength="54.86" lengthAdjust="spacingAndGlyphs" transform="rotate(0.03 426.6 333.37)">LDLR | rs730882098</text>
<text x="426.6" y="339.08" textLength="54.86" lengthAdjust="spacingAndGlyphs" transform="rotate(0.03 426.6 339.08)">LDLR | rs753319170</text>
<text x="426.6" y="344.78" textLength="54.86" lengthAdjust="spacingAndGlyphs" transform="rotate(0.03 426.6 344.78)">LDLR | rs763625913</text>
<text x="426.6" y="350.49" textLength="54.86" lengthAdjust="spacingAndGlyphs" transform="rotate(0.03 426.6 350.49)">LDLR | rs770696696</text>
<text x="426.6" y="356.19" textLength="55.85" lengthAdjust="spacingAndGlyphs" transform="rotate(0.03 426.6 356.19)">LMNA | rs267607554</text>
<text x="426.6" y="361.89" textLength="52.54" lengthAdjust="spacingAndGlyphs" transform="rotate(0.03 426.6 361.89)">LMNA | rs28933093</text>
<text x="426.6" y="367.6" textLength="52.54" lengthAdjust="spacingAndGlyphs" transform="rotate(0.03 426.6 367.6)">LMNA | rs57920071</text>
<text x="426.6" y="373.3" textLength="52.54" lengthAdjust="spacingAndGlyphs" transform="rotate(0.03 426.6 373.3)">LMNA | rs59886214</text>
<text x="426.6" y="379.01" textLength="56.18" lengthAdjust="spacingAndGlyphs" transform="rotate(0.03 426.6 379.01)">MEN1 | rs104894266</text>
<text x="426.6" y="384.71" textLength="56.18" lengthAdjust="spacingAndGlyphs" transform="rotate(0.03 426.6 384.71)">MSH2 | rs267607962</text>
<text x="426.6" y="390.41" textLength="60.81" lengthAdjust="spacingAndGlyphs" transform="rotate(0.03 426.6 390.41)">MUTYH | rs374950566</text>
<text x="426.6" y="396.12" textLength="60.81" lengthAdjust="spacingAndGlyphs" transform="rotate(0.03 426.6 396.12)">MUTYH | rs529008617</text>
<text x="426.6" y="401.82" textLength="60.81" lengthAdjust="spacingAndGlyphs" transform="rotate(0.03 426.6 401.82)">MUTYH | rs587780082</text>
<text x="426.6" y="407.53" textLength="60.81" lengthAdjust="spacingAndGlyphs" transform="rotate(0.03 426.6 407.53)">MUTYH | rs587781628</text>
<text x="426.6" y="413.23" textLength="60.81" lengthAdjust="spacingAndGlyphs" transform="rotate(0.03 426.6 413.23)">MUTYH | rs587783057</text>
<text x="426.6" y="418.93" textLength="64.13" lengthAdjust="spacingAndGlyphs" transform="rotate(0.03 426.6 418.93)">MYBPC3 | rs121909375</text>
<text x="426.6" y="424.64" textLength="64.13" lengthAdjust="spacingAndGlyphs" transform="rotate(0.03 426.6 424.64)">MYBPC3 | rs376395543</text>
<text x="426.6" y="430.34" textLength="64.13" lengthAdjust="spacingAndGlyphs" transform="rotate(0.03 426.6 430.34)">MYBPC3 | rs397516042</text>
<text x="426.6" y="436.05" textLength="55.41" lengthAdjust="spacingAndGlyphs" transform="rotate(0.03 426.6 436.05)">PCSK9 | rs28942112</text>
<text x="426.6" y="441.75" textLength="51.22" lengthAdjust="spacingAndGlyphs" transform="rotate(0.03 426.6 441.75)">RB1 | rs137853296</text>
<text x="426.6" y="447.45" textLength="55.19" lengthAdjust="spacingAndGlyphs" transform="rotate(0.03 426.6 447.45)">RPE65 | rs61752895</text>
<text x="426.6" y="453.16" textLength="54.53" lengthAdjust="spacingAndGlyphs" transform="rotate(0.03 426.6 453.16)">RYR1 | rs118192118</text>
<text x="426.6" y="458.86" textLength="54.97" lengthAdjust="spacingAndGlyphs" transform="rotate(0.03 426.6 458.86)">RYR1 | rs118192122</text>
<text x="426.6" y="464.57" textLength="54.97" lengthAdjust="spacingAndGlyphs" transform="rotate(0.03 426.6 464.57)">RYR1 | rs118192123</text>
<text x="426.6" y="470.27" textLength="54.97" lengthAdjust="spacingAndGlyphs" transform="rotate(0.03 426.6 470.27)">RYR1 | rs118192124</text>
<text x="426.6" y="475.97" textLength="55.41" lengthAdjust="spacingAndGlyphs" transform="rotate(0.03 426.6 475.97)">RYR1 | rs193922803</text>
<text x="426.6" y="481.68" textLength="55.41" lengthAdjust="spacingAndGlyphs" transform="rotate(0.03 426.6 481.68)">RYR1 | rs756138074</text>
<text x="426.6" y="487.38" textLength="59.16" lengthAdjust="spacingAndGlyphs" transform="rotate(0.03 426.6 487.38)">SCN5A | rs137854604</text>
<text x="426.6" y="493.09" textLength="59.16" lengthAdjust="spacingAndGlyphs" transform="rotate(0.03 426.6 493.09)">SCN5A | rs199473083</text>
<text x="426.6" y="498.79" textLength="59.16" lengthAdjust="spacingAndGlyphs" transform="rotate(0.03 426.6 498.79)">SCN5A | rs397514447</text>
<text x="426.6" y="504.49" textLength="60.15" lengthAdjust="spacingAndGlyphs" transform="rotate(0.03 426.6 504.49)">SMAD3 | rs387906851</text>
<text x="426.6" y="510.2" textLength="60.15" lengthAdjust="spacingAndGlyphs" transform="rotate(0.03 426.6 510.2)">SMAD4 | rs377767386</text>
<text x="426.6" y="515.9" textLength="63.13" lengthAdjust="spacingAndGlyphs" transform="rotate(0.03 426.6 515.9)">TGFBR1 | rs121918713</text>
<text x="426.6" y="521.61" textLength="63.13" lengthAdjust="spacingAndGlyphs" transform="rotate(0.03 426.6 521.61)">TGFBR2 | rs104893810</text>
<text x="426.6" y="527.31" textLength="56.84" lengthAdjust="spacingAndGlyphs" transform="rotate(0.03 426.6 527.31)">TNNI3 | rs104894728</text>
<text x="426.6" y="533.01" textLength="56.84" lengthAdjust="spacingAndGlyphs" transform="rotate(0.03 426.6 533.01)">TNNI3 | rs267607128</text>
<text x="426.6" y="538.72" textLength="56.84" lengthAdjust="spacingAndGlyphs" transform="rotate(0.03 426.6 538.72)">TNNI3 | rs727504242</text>
<text x="426.6" y="544.42" textLength="58.82" lengthAdjust="spacingAndGlyphs" transform="rotate(0.03 426.6 544.42)">TNNT2 | rs727504247</text>
<text x="426.6" y="550.13" textLength="51.54" lengthAdjust="spacingAndGlyphs" transform="rotate(0.03 426.6 550.13)">TSC2 | rs45515894</text>
<text x="426.6" y="555.83" textLength="51.54" lengthAdjust="spacingAndGlyphs" transform="rotate(0.03 426.6 555.83)">TSC2 | rs45516293</text>
<text x="426.6" y="561.53" textLength="51.54" lengthAdjust="spacingAndGlyphs" transform="rotate(0.03 426.6 561.53)">TSC2 | rs45517214</text>
<text x="426.6" y="567.24" textLength="47.9" lengthAdjust="spacingAndGlyphs" transform="rotate(0.03 426.6 567.24)">TTR | rs76992529</text>
<text x="426.6" y="572.94" textLength="44.37" lengthAdjust="spacingAndGlyphs" transform="rotate(0.03 426.6 572.94)">VHL | rs5030809</text>
</g>
<path d="M440.4 12H444" stroke="#4a88c7" stroke-width="1.3"/>
<path d="M440.4 17.7H461.98" stroke="#6b9bc9" stroke-width="1.3"/>
<path d="M440.4 23.41H458.38" stroke="#6b9bc9" stroke-width="1.3"/>
<path d="M440.4 29.11H444" stroke="#1f2c5c" stroke-width="1.3"/>
<path d="M440.4 34.82H490.76" stroke="#1f2c5c" stroke-width="1.3"/>
<path d="M440.4 40.52H454.79" stroke="#1f2c5c" stroke-width="1.3"/>
<path d="M440.4 46.22H444" stroke="#1f2c5c" stroke-width="1.3"/>
<path d="M440.4 51.93H444" stroke="#1f2c5c" stroke-width="1.3"/>
<path d="M440.4 57.63H444" stroke="#1f2c5c" stroke-width="1.3"/>
<path d="M440.4 63.34H451.19" stroke="#1f2c5c" stroke-width="1.3"/>
<path d="M440.4 69.04H444" stroke="#9aaab7" stroke-width="1.3"/>
<path d="M440.4 74.74H444" stroke="#9aaab7" stroke-width="1.3"/>
<path d="M440.4 80.45H451.19" stroke="#9aaab7" stroke-width="1.3"/>
<path d="M440.4 86.15H461.98" stroke="#468ccf" stroke-width="1.3"/>
<path d="M440.4 91.86H444" stroke="#468ccf" stroke-width="1.3"/>
<path d="M440.4 97.56H444" stroke="#468ccf" stroke-width="1.3"/>
<path d="M440.4 103.26H444" stroke="#6d97c1" stroke-width="1.3"/>
<path d="M440.4 108.97H548.31" stroke="#6d97c1" stroke-width="1.3"/>
<path d="M440.4 114.67H447.59" stroke="#6d97c1" stroke-width="1.3"/>
<path d="M440.4 120.38H444" stroke="#6d97c1" stroke-width="1.3"/>
<path d="M440.4 126.08H444" stroke="#6d97c1" stroke-width="1.3"/>
<path d="M440.4 131.78H444" stroke="#6392c4" stroke-width="1.3"/>
<path d="M440.4 137.49H444" stroke="#6392c4" stroke-width="1.3"/>
<path d="M440.4 143.19H454.79" stroke="#6392c4" stroke-width="1.3"/>
<path d="M440.4 148.9H447.59" stroke="#6392c4" stroke-width="1.3"/>
<path d="M440.4 154.6H461.98" stroke="#6392c4" stroke-width="1.3"/>
<path d="M440.4 160.3H451.19" stroke="#6392c4" stroke-width="1.3"/>
<path d="M440.4 166.01H454.79" stroke="#6392c4" stroke-width="1.3"/>
<path d="M440.4 171.71H444" stroke="#6392c4" stroke-width="1.3"/>
<path d="M440.4 177.42H515.94" stroke="#4685c5" stroke-width="1.3"/>
<path d="M440.4 183.12H447.59" stroke="#1a2452" stroke-width="1.3"/>
<path d="M440.4 188.82H634.64" stroke="#4584c4" stroke-width="1.3"/>
<path d="M440.4 194.53H483.56" stroke="#4584c4" stroke-width="1.3"/>
<path d="M440.4 200.23H587.88" stroke="#4584c4" stroke-width="1.3"/>
<path d="M440.4 205.94H444" stroke="#4584c4" stroke-width="1.3"/>
<path d="M440.4 211.64H670.61" stroke="#4584c4" stroke-width="1.3"/>
<path d="M440.4 217.34H479.97" stroke="#4584c4" stroke-width="1.3"/>
<path d="M440.4 223.05H444" stroke="#4584c4" stroke-width="1.3"/>
<path d="M440.4 228.75H461.98" stroke="#4584c4" stroke-width="1.3"/>
<path d="M440.4 234.46H451.19" stroke="#4584c4" stroke-width="1.3"/>
<path d="M440.4 240.16H444" stroke="#4584c4" stroke-width="1.3"/>
<path d="M440.4 245.86H454.79" stroke="#4584c4" stroke-width="1.3"/>
<path d="M440.4 251.57H537.52" stroke="#4584c4" stroke-width="1.3"/>
<path d="M440.4 257.27H458.38" stroke="#4584c4" stroke-width="1.3"/>
<path d="M440.4 262.98H451.19" stroke="#3a7fd5" stroke-width="1.3"/>
<path d="M440.4 268.68H454.79" stroke="#7a9cbf" stroke-width="1.3"/>
<path d="M440.4 274.38H447.59" stroke="#123f8c" stroke-width="1.3"/>
<path d="M440.4 280.09H444" stroke="#123f8c" stroke-width="1.3"/>
<path d="M440.4 285.79H458.38" stroke="#123f8c" stroke-width="1.3"/>
<path d="M440.4 291.5H476.37" stroke="#123f8c" stroke-width="1.3"/>
<path d="M440.4 297.2H447.59" stroke="#123f8c" stroke-width="1.3"/>
<path d="M440.4 302.9H447.59" stroke="#123f8c" stroke-width="1.3"/>
<path d="M440.4 308.61H444" stroke="#123f8c" stroke-width="1.3"/>
<path d="M440.4 314.31H490.76" stroke="#123f8c" stroke-width="1.3"/>
<path d="M440.4 320.02H569.89" stroke="#123f8c" stroke-width="1.3"/>
<path d="M440.4 325.72H447.59" stroke="#3a7fcb" stroke-width="1.3"/>
<path d="M440.4 331.42H454.79" stroke="#3a7fcb" stroke-width="1.3"/>
<path d="M440.4 337.13H444" stroke="#3a7fcb" stroke-width="1.3"/>
<path d="M440.4 342.83H469.18" stroke="#3a7fcb" stroke-width="1.3"/>
<path d="M440.4 348.54H454.79" stroke="#3a7fcb" stroke-width="1.3"/>
<path d="M440.4 354.24H483.56" stroke="#5689c6" stroke-width="1.3"/>
<path d="M440.4 359.94H451.19" stroke="#5689c6" stroke-width="1.3"/>
<path d="M440.4 365.65H444" stroke="#5689c6" stroke-width="1.3"/>
<path d="M440.4 371.35H508.74" stroke="#5689c6" stroke-width="1.3"/>
<path d="M440.4 377.06H530.32" stroke="#9aa7b4" stroke-width="1.3"/>
<path d="M440.4 382.76H444" stroke="#2f7fd4" stroke-width="1.3"/>
<path d="M440.4 388.46H444" stroke="#13479a" stroke-width="1.3"/>
<path d="M440.4 394.17H508.74" stroke="#13479a" stroke-width="1.3"/>
<path d="M440.4 399.87H454.79" stroke="#13479a" stroke-width="1.3"/>
<path d="M440.4 405.58H447.59" stroke="#13479a" stroke-width="1.3"/>
<path d="M440.4 411.28H447.59" stroke="#13479a" stroke-width="1.3"/>
<path d="M440.4 416.98H609.46" stroke="#2f7ed5" stroke-width="1.3"/>
<path d="M440.4 422.69H544.71" stroke="#2f7ed5" stroke-width="1.3"/>
<path d="M440.4 428.39H487.16" stroke="#2f7ed5" stroke-width="1.3"/>
<path d="M440.4 434.1H501.55" stroke="#1e2950" stroke-width="1.3"/>
<path d="M440.4 439.8H444" stroke="#1f5fb0" stroke-width="1.3"/>
<path d="M440.4 445.5H444" stroke="#1f2d5e" stroke-width="1.3"/>
<path d="M440.4 451.21H605.86" stroke="#222c5c" stroke-width="1.3"/>
<path d="M440.4 456.91H479.97" stroke="#222c5c" stroke-width="1.3"/>
<path d="M440.4 462.62H454.79" stroke="#222c5c" stroke-width="1.3"/>
<path d="M440.4 468.32H447.59" stroke="#222c5c" stroke-width="1.3"/>
<path d="M440.4 474.02H451.19" stroke="#222c5c" stroke-width="1.3"/>
<path d="M440.4 479.73H444" stroke="#222c5c" stroke-width="1.3"/>
<path d="M440.4 485.43H444" stroke="#1f2b5a" stroke-width="1.3"/>
<path d="M440.4 491.14H444" stroke="#1f2b5a" stroke-width="1.3"/>
<path d="M440.4 496.84H451.19" stroke="#1f2b5a" stroke-width="1.3"/>
<path d="M440.4 502.54H465.58" stroke="#2f7ed5" stroke-width="1.3"/>
<path d="M440.4 508.25H505.15" stroke="#13479a" stroke-width="1.3"/>
<path d="M440.4 513.95H451.19" stroke="#13479a" stroke-width="1.3"/>
<path d="M440.4 519.66H490.76" stroke="#9aaab7" stroke-width="1.3"/>
<path d="M440.4 525.36H444" stroke="#4f87c7" stroke-width="1.3"/>
<path d="M440.4 531.06H444" stroke="#4f87c7" stroke-width="1.3"/>
<path d="M440.4 536.77H444" stroke="#4f87c7" stroke-width="1.3"/>
<path d="M440.4 542.47H444" stroke="#7a9cbf" stroke-width="1.3"/>
<path d="M440.4 548.18H508.74" stroke="#8c9fb1" stroke-width="1.3"/>
<path d="M440.4 553.88H523.13" stroke="#8c9fb1" stroke-width="1.3"/>
<path d="M440.4 559.58H508.74" stroke="#8c9fb1" stroke-width="1.3"/>
<path d="M440.4 565.29H465.58" stroke="#13479a" stroke-width="1.3"/>
<path d="M440.4 570.99H559.1" stroke="#2f7ed5" stroke-width="1.3"/>
<circle cx="444" cy="12" r="3.55" fill="#4a88c7"/>
<text x="449" y="14.9" font-size="7.1" fill="#4a88c7" transform="rotate(0.03 449 14.9)">1</text>
<circle cx="461.98" cy="17.7" r="3.55" fill="#6b9bc9"/>
<text x="468.48" y="20.6" font-size="7.1" fill="#6b9bc9" transform="rotate(0.03 468.48 20.6)">6</text>
<circle cx="458.38" cy="23.41" r="3.55" fill="#6b9bc9"/>
<text x="464.88" y="26.31" font-size="7.1" fill="#6b9bc9" transform="rotate(0.03 464.88 26.31)">5</text>
<circle cx="444" cy="29.11" r="3.55" fill="#1f2c5c"/>
<text x="449" y="32.01" font-size="7.1" fill="#1f2c5c" transform="rotate(0.03 449 32.01)">1</text>
<circle cx="490.76" cy="34.82" r="3.55" fill="#1f2c5c"/>
<text x="496.66" y="37.72" font-size="7.1" fill="#1f2c5c" transform="rotate(0.03 496.66 37.72)">14</text>
<circle cx="454.79" cy="40.52" r="3.55" fill="#1f2c5c"/>
<text x="461.29" y="43.42" font-size="7.1" fill="#1f2c5c" transform="rotate(0.03 461.29 43.42)">4</text>
<circle cx="444" cy="46.22" r="3.55" fill="#1f2c5c"/>
<text x="449" y="49.12" font-size="7.1" fill="#1f2c5c" transform="rotate(0.03 449 49.12)">1</text>
<circle cx="444" cy="51.93" r="3.55" fill="#1f2c5c"/>
<text x="449" y="54.83" font-size="7.1" fill="#1f2c5c" transform="rotate(0.03 449 54.83)">1</text>
<circle cx="444" cy="57.63" r="3.55" fill="#1f2c5c"/>
<text x="449" y="60.53" font-size="7.1" fill="#1f2c5c" transform="rotate(0.03 449 60.53)">1</text>
<circle cx="451.19" cy="63.34" r="3.55" fill="#1f2c5c"/>
<text x="457.69" y="66.24" font-size="7.1" fill="#1f2c5c" transform="rotate(0.03 457.69 66.24)">3</text>
<circle cx="444" cy="69.04" r="3.55" fill="#9aaab7"/>
<text x="449" y="71.94" font-size="7.1" fill="#9aaab7" transform="rotate(0.03 449 71.94)">1</text>
<circle cx="444" cy="74.74" r="3.55" fill="#9aaab7"/>
<text x="449" y="77.64" font-size="7.1" fill="#9aaab7" transform="rotate(0.03 449 77.64)">1</text>
<circle cx="451.19" cy="80.45" r="3.55" fill="#9aaab7"/>
<text x="457.69" y="83.35" font-size="7.1" fill="#9aaab7" transform="rotate(0.03 457.69 83.35)">3</text>
<circle cx="461.98" cy="86.15" r="3.55" fill="#468ccf"/>
<text x="468.48" y="89.05" font-size="7.1" fill="#468ccf" transform="rotate(0.03 468.48 89.05)">6</text>
<circle cx="444" cy="91.86" r="3.55" fill="#468ccf"/>
<text x="449" y="94.76" font-size="7.1" fill="#468ccf" transform="rotate(0.03 449 94.76)">1</text>
<circle cx="444" cy="97.56" r="3.55" fill="#468ccf"/>
<text x="449" y="100.46" font-size="7.1" fill="#468ccf" transform="rotate(0.03 449 100.46)">1</text>
<circle cx="444" cy="103.26" r="3.55" fill="#6d97c1"/>
<text x="449" y="106.16" font-size="7.1" fill="#6d97c1" transform="rotate(0.03 449 106.16)">1</text>
<circle cx="548.31" cy="108.97" r="3.55" fill="#6d97c1"/>
<text x="554.81" y="111.87" font-size="7.1" fill="#6d97c1" transform="rotate(0.03 554.81 111.87)">30</text>
<circle cx="447.59" cy="114.67" r="3.55" fill="#6d97c1"/>
<text x="454.09" y="117.57" font-size="7.1" fill="#6d97c1" transform="rotate(0.03 454.09 117.57)">2</text>
<circle cx="444" cy="120.38" r="3.55" fill="#6d97c1"/>
<text x="449" y="123.28" font-size="7.1" fill="#6d97c1" transform="rotate(0.03 449 123.28)">1</text>
<circle cx="444" cy="126.08" r="3.55" fill="#6d97c1"/>
<text x="449" y="128.98" font-size="7.1" fill="#6d97c1" transform="rotate(0.03 449 128.98)">1</text>
<circle cx="444" cy="131.78" r="3.55" fill="#6392c4"/>
<text x="449" y="134.68" font-size="7.1" fill="#6392c4" transform="rotate(0.03 449 134.68)">1</text>
<circle cx="444" cy="137.49" r="3.55" fill="#6392c4"/>
<text x="449" y="140.39" font-size="7.1" fill="#6392c4" transform="rotate(0.03 449 140.39)">1</text>
<circle cx="454.79" cy="143.19" r="3.55" fill="#6392c4"/>
<text x="461.29" y="146.09" font-size="7.1" fill="#6392c4" transform="rotate(0.03 461.29 146.09)">4</text>
<circle cx="447.59" cy="148.9" r="3.55" fill="#6392c4"/>
<text x="454.09" y="151.8" font-size="7.1" fill="#6392c4" transform="rotate(0.03 454.09 151.8)">2</text>
<circle cx="461.98" cy="154.6" r="3.55" fill="#6392c4"/>
<text x="468.48" y="157.5" font-size="7.1" fill="#6392c4" transform="rotate(0.03 468.48 157.5)">6</text>
<circle cx="451.19" cy="160.3" r="3.55" fill="#6392c4"/>
<text x="457.69" y="163.2" font-size="7.1" fill="#6392c4" transform="rotate(0.03 457.69 163.2)">3</text>
<circle cx="454.79" cy="166.01" r="3.55" fill="#6392c4"/>
<text x="461.29" y="168.91" font-size="7.1" fill="#6392c4" transform="rotate(0.03 461.29 168.91)">4</text>
<circle cx="444" cy="171.71" r="3.55" fill="#6392c4"/>
<text x="449" y="174.61" font-size="7.1" fill="#6392c4" transform="rotate(0.03 449 174.61)">1</text>
<circle cx="515.94" cy="177.42" r="3.55" fill="#4685c5"/>
<text x="522.44" y="180.32" font-size="7.1" fill="#4685c5" transform="rotate(0.03 522.44 180.32)">21</text>
<circle cx="447.59" cy="183.12" r="3.55" fill="#1a2452"/>
<text x="454.09" y="186.02" font-size="7.1" fill="#1a2452" transform="rotate(0.03 454.09 186.02)">2</text>
<circle cx="634.64" cy="188.82" r="3.55" fill="#4584c4"/>
<text x="641.14" y="191.72" font-size="7.1" fill="#4584c4" transform="rotate(0.03 641.14 191.72)">54</text>
<circle cx="483.56" cy="194.53" r="3.55" fill="#4584c4"/>
<text x="489.46" y="197.43" font-size="7.1" fill="#4584c4" transform="rotate(0.03 489.46 197.43)">12</text>
<circle cx="587.88" cy="200.23" r="3.55" fill="#4584c4"/>
<text x="594.38" y="203.13" font-size="7.1" fill="#4584c4" transform="rotate(0.03 594.38 203.13)">41</text>
<circle cx="444" cy="205.94" r="3.55" fill="#4584c4"/>
<text x="449" y="208.84" font-size="7.1" fill="#4584c4" transform="rotate(0.03 449 208.84)">1</text>
<circle cx="670.61" cy="211.64" r="3.55" fill="#4584c4"/>
<text x="677.11" y="214.54" font-size="7.1" fill="#4584c4" transform="rotate(0.03 677.11 214.54)">64</text>
<circle cx="479.97" cy="217.34" r="3.55" fill="#4584c4"/>
<text x="485.87" y="220.24" font-size="7.1" fill="#4584c4" transform="rotate(0.03 485.87 220.24)">11</text>
<circle cx="444" cy="223.05" r="3.55" fill="#4584c4"/>
<text x="449" y="225.95" font-size="7.1" fill="#4584c4" transform="rotate(0.03 449 225.95)">1</text>
<circle cx="461.98" cy="228.75" r="3.55" fill="#4584c4"/>
<text x="468.48" y="231.65" font-size="7.1" fill="#4584c4" transform="rotate(0.03 468.48 231.65)">6</text>
<circle cx="451.19" cy="234.46" r="3.55" fill="#4584c4"/>
<text x="457.69" y="237.36" font-size="7.1" fill="#4584c4" transform="rotate(0.03 457.69 237.36)">3</text>
<circle cx="444" cy="240.16" r="3.55" fill="#4584c4"/>
<text x="449" y="243.06" font-size="7.1" fill="#4584c4" transform="rotate(0.03 449 243.06)">1</text>
<circle cx="454.79" cy="245.86" r="3.55" fill="#4584c4"/>
<text x="461.29" y="248.76" font-size="7.1" fill="#4584c4" transform="rotate(0.03 461.29 248.76)">4</text>
<circle cx="537.52" cy="251.57" r="3.55" fill="#4584c4"/>
<text x="544.02" y="254.47" font-size="7.1" fill="#4584c4" transform="rotate(0.03 544.02 254.47)">27</text>
<circle cx="458.38" cy="257.27" r="3.55" fill="#4584c4"/>
<text x="464.88" y="261.67" font-size="7.1" fill="#4584c4" transform="rotate(0.03 464.88 261.67)">5</text>
<circle cx="451.19" cy="262.98" r="3.55" fill="#3a7fd5"/>
<text x="457.69" y="267.28" font-size="7.1" fill="#3a7fd5" transform="rotate(0.03 457.69 267.28)">3</text>
<circle cx="454.79" cy="268.68" r="3.55" fill="#7a9cbf"/>
<text x="461.29" y="272.98" font-size="7.1" fill="#7a9cbf" transform="rotate(0.03 461.29 272.98)">4</text>
<circle cx="447.59" cy="274.38" r="3.55" fill="#123f8c"/>
<text x="454.09" y="279.28" font-size="7.1" fill="#123f8c" transform="rotate(0.03 454.09 279.28)">2</text>
<circle cx="444" cy="280.09" r="3.55" fill="#123f8c"/>
<text x="449" y="284.49" font-size="7.1" fill="#123f8c" transform="rotate(0.03 449 284.49)">1</text>
<circle cx="458.38" cy="285.79" r="3.55" fill="#123f8c"/>
<text x="464.88" y="288.69" font-size="7.1" fill="#123f8c" transform="rotate(0.03 464.88 288.69)">5</text>
<circle cx="476.37" cy="291.5" r="3.55" fill="#123f8c"/>
<text x="482.27" y="294.4" font-size="7.1" fill="#123f8c" transform="rotate(0.03 482.27 294.4)">10</text>
<circle cx="447.59" cy="297.2" r="3.55" fill="#123f8c"/>
<text x="454.09" y="300.1" font-size="7.1" fill="#123f8c" transform="rotate(0.03 454.09 300.1)">2</text>
<circle cx="447.59" cy="302.9" r="3.55" fill="#123f8c"/>
<text x="454.09" y="305.8" font-size="7.1" fill="#123f8c" transform="rotate(0.03 454.09 305.8)">2</text>
<circle cx="444" cy="308.61" r="3.55" fill="#123f8c"/>
<text x="449" y="313.31" font-size="7.1" fill="#123f8c" transform="rotate(0.03 449 313.31)">1</text>
<circle cx="490.76" cy="314.31" r="3.55" fill="#123f8c"/>
<text x="496.66" y="317.21" font-size="7.1" fill="#123f8c" transform="rotate(0.03 496.66 317.21)">14</text>
<circle cx="569.89" cy="320.02" r="3.55" fill="#123f8c"/>
<text x="576.39" y="322.92" font-size="7.1" fill="#123f8c" transform="rotate(0.03 576.39 322.92)">36</text>
<circle cx="447.59" cy="325.72" r="3.55" fill="#3a7fcb"/>
<text x="454.09" y="328.62" font-size="7.1" fill="#3a7fcb" transform="rotate(0.03 454.09 328.62)">2</text>
<circle cx="454.79" cy="331.42" r="3.55" fill="#3a7fcb"/>
<text x="461.29" y="334.32" font-size="7.1" fill="#3a7fcb" transform="rotate(0.03 461.29 334.32)">4</text>
<circle cx="444" cy="337.13" r="3.55" fill="#3a7fcb"/>
<text x="449" y="340.03" font-size="7.1" fill="#3a7fcb" transform="rotate(0.03 449 340.03)">1</text>
<circle cx="469.18" cy="342.83" r="3.55" fill="#3a7fcb"/>
<text x="475.68" y="345.73" font-size="7.1" fill="#3a7fcb" transform="rotate(0.03 475.68 345.73)">8</text>
<circle cx="454.79" cy="348.54" r="3.55" fill="#3a7fcb"/>
<text x="461.29" y="351.44" font-size="7.1" fill="#3a7fcb" transform="rotate(0.03 461.29 351.44)">4</text>
<circle cx="483.56" cy="354.24" r="3.55" fill="#5689c6"/>
<text x="489.46" y="357.14" font-size="7.1" fill="#5689c6" transform="rotate(0.03 489.46 357.14)">12</text>
<circle cx="451.19" cy="359.94" r="3.55" fill="#5689c6"/>
<text x="457.69" y="362.84" font-size="7.1" fill="#5689c6" transform="rotate(0.03 457.69 362.84)">3</text>
<circle cx="444" cy="365.65" r="3.55" fill="#5689c6"/>
<text x="449" y="368.55" font-size="7.1" fill="#5689c6" transform="rotate(0.03 449 368.55)">1</text>
<circle cx="508.74" cy="371.35" r="3.55" fill="#5689c6"/>
<text x="514.64" y="374.25" font-size="7.1" fill="#5689c6" transform="rotate(0.03 514.64 374.25)">19</text>
<circle cx="530.32" cy="377.06" r="3.55" fill="#9aa7b4"/>
<text x="536.82" y="379.96" font-size="7.1" fill="#9aa7b4" transform="rotate(0.03 536.82 379.96)">25</text>
<circle cx="444" cy="382.76" r="3.55" fill="#2f7fd4"/>
<text x="449" y="385.66" font-size="7.1" fill="#2f7fd4" transform="rotate(0.03 449 385.66)">1</text>
<circle cx="444" cy="388.46" r="3.55" fill="#13479a"/>
<text x="449" y="391.36" font-size="7.1" fill="#13479a" transform="rotate(0.03 449 391.36)">1</text>
<circle cx="508.74" cy="394.17" r="3.55" fill="#13479a"/>
<text x="514.64" y="397.07" font-size="7.1" fill="#13479a" transform="rotate(0.03 514.64 397.07)">19</text>
<circle cx="454.79" cy="399.87" r="3.55" fill="#13479a"/>
<text x="461.29" y="402.77" font-size="7.1" fill="#13479a" transform="rotate(0.03 461.29 402.77)">4</text>
<circle cx="447.59" cy="405.58" r="3.55" fill="#13479a"/>
<text x="454.09" y="408.48" font-size="7.1" fill="#13479a" transform="rotate(0.03 454.09 408.48)">2</text>
<circle cx="447.59" cy="411.28" r="3.55" fill="#13479a"/>
<text x="454.09" y="414.18" font-size="7.1" fill="#13479a" transform="rotate(0.03 454.09 414.18)">2</text>
<circle cx="609.46" cy="416.98" r="3.55" fill="#2f7ed5"/>
<text x="615.96" y="419.88" font-size="7.1" fill="#2f7ed5" transform="rotate(0.03 615.96 419.88)">47</text>
<circle cx="544.71" cy="422.69" r="3.55" fill="#2f7ed5"/>
<text x="551.21" y="425.59" font-size="7.1" fill="#2f7ed5" transform="rotate(0.03 551.21 425.59)">29</text>
<circle cx="487.16" cy="428.39" r="3.55" fill="#2f7ed5"/>
<text x="493.06" y="431.29" font-size="7.1" fill="#2f7ed5" transform="rotate(0.03 493.06 431.29)">13</text>
<circle cx="501.55" cy="434.1" r="3.55" fill="#1e2950"/>
<text x="507.45" y="437" font-size="7.1" fill="#1e2950" transform="rotate(0.03 507.45 437)">17</text>
<circle cx="444" cy="439.8" r="3.55" fill="#1f5fb0"/>
<text x="449" y="442.7" font-size="7.1" fill="#1f5fb0" transform="rotate(0.03 449 442.7)">1</text>
<circle cx="444" cy="445.5" r="3.55" fill="#1f2d5e"/>
<text x="449" y="448.4" font-size="7.1" fill="#1f2d5e" transform="rotate(0.03 449 448.4)">1</text>
<circle cx="605.86" cy="451.21" r="3.55" fill="#222c5c"/>
<text x="612.36" y="454.11" font-size="7.1" fill="#222c5c" transform="rotate(0.03 612.36 454.11)">46</text>
<circle cx="479.97" cy="456.91" r="3.55" fill="#222c5c"/>
<text x="485.87" y="459.81" font-size="7.1" fill="#222c5c" transform="rotate(0.03 485.87 459.81)">11</text>
<circle cx="454.79" cy="462.62" r="3.55" fill="#222c5c"/>
<text x="461.29" y="465.52" font-size="7.1" fill="#222c5c" transform="rotate(0.03 461.29 465.52)">4</text>
<circle cx="447.59" cy="468.32" r="3.55" fill="#222c5c"/>
<text x="454.09" y="471.22" font-size="7.1" fill="#222c5c" transform="rotate(0.03 454.09 471.22)">2</text>
<circle cx="451.19" cy="474.02" r="3.55" fill="#222c5c"/>
<text x="457.69" y="476.92" font-size="7.1" fill="#222c5c" transform="rotate(0.03 457.69 476.92)">3</text>
<circle cx="444" cy="479.73" r="3.55" fill="#222c5c"/>
<text x="449" y="482.63" font-size="7.1" fill="#222c5c" transform="rotate(0.03 449 482.63)">1</text>
<circle cx="444" cy="485.43" r="3.55" fill="#1f2b5a"/>
<text x="449" y="488.33" font-size="7.1" fill="#1f2b5a" transform="rotate(0.03 449 488.33)">1</text>
<circle cx="444" cy="491.14" r="3.55" fill="#1f2b5a"/>
<text x="449" y="494.04" font-size="7.1" fill="#1f2b5a" transform="rotate(0.03 449 494.04)">1</text>
<circle cx="451.19" cy="496.84" r="3.55" fill="#1f2b5a"/>
<text x="457.69" y="499.74" font-size="7.1" fill="#1f2b5a" transform="rotate(0.03 457.69 499.74)">3</text>
<circle cx="465.58" cy="502.54" r="3.55" fill="#2f7ed5"/>
<text x="472.08" y="505.44" font-size="7.1" fill="#2f7ed5" transform="rotate(0.03 472.08 505.44)">7</text>
<circle cx="505.15" cy="508.25" r="3.55" fill="#13479a"/>
<text x="511.05" y="511.15" font-size="7.1" fill="#13479a" transform="rotate(0.03 511.05 511.15)">18</text>
<circle cx="451.19" cy="513.95" r="3.55" fill="#13479a"/>
<text x="457.69" y="516.85" font-size="7.1" fill="#13479a" transform="rotate(0.03 457.69 516.85)">3</text>
<circle cx="490.76" cy="519.66" r="3.55" fill="#9aaab7"/>
<text x="496.66" y="522.56" font-size="7.1" fill="#9aaab7" transform="rotate(0.03 496.66 522.56)">14</text>
<circle cx="444" cy="525.36" r="3.55" fill="#4f87c7"/>
<text x="449" y="528.26" font-size="7.1" fill="#4f87c7" transform="rotate(0.03 449 528.26)">1</text>
<circle cx="444" cy="531.06" r="3.55" fill="#4f87c7"/>
<text x="449" y="533.96" font-size="7.1" fill="#4f87c7" transform="rotate(0.03 449 533.96)">1</text>
<circle cx="444" cy="536.77" r="3.55" fill="#4f87c7"/>
<text x="449" y="539.67" font-size="7.1" fill="#4f87c7" transform="rotate(0.03 449 539.67)">1</text>
<circle cx="444" cy="542.47" r="3.55" fill="#7a9cbf"/>
<text x="449" y="545.37" font-size="7.1" fill="#7a9cbf" transform="rotate(0.03 449 545.37)">1</text>
<circle cx="508.74" cy="548.18" r="3.55" fill="#8c9fb1"/>
<text x="523.94" y="551.08" font-size="7.1" fill="#8c9fb1" transform="rotate(0.03 523.94 551.08)">19</text>
<circle cx="523.13" cy="553.88" r="3.55" fill="#8c9fb1"/>
<text x="535.93" y="558.08" font-size="7.1" fill="#8c9fb1" transform="rotate(0.03 535.93 558.08)">23</text>
<circle cx="508.74" cy="559.58" r="3.55" fill="#8c9fb1"/>
<text x="521.24" y="563.48" font-size="7.1" fill="#8c9fb1" transform="rotate(0.03 521.24 563.48)">19</text>
<circle cx="465.58" cy="565.29" r="3.55" fill="#13479a"/>
<text x="472.38" y="569.69" font-size="7.1" fill="#13479a" transform="rotate(0.03 472.38 569.69)">7</text>
<circle cx="559.1" cy="570.99" r="3.55" fill="#2f7ed5"/>
<text x="571.7" y="574.89" font-size="7.1" fill="#2f7ed5" transform="rotate(0.03 571.7 574.89)">33</text>
<g font-size="7.3" text-anchor="middle">
<text x="440.1" y="583.7" transform="rotate(0.03 440.1 583.7)">0</text>
<text x="527.2" y="583.7" transform="rotate(0.03 527.2 583.7)">0.002</text>
<text x="612.6" y="583.7" transform="rotate(0.03 612.6 583.7)">0.004</text>
</g>
<text x="555.4" y="595.6" font-size="8.8" text-anchor="middle" textLength="66" lengthAdjust="spacingAndGlyphs" transform="rotate(0.03 555.4 595.6)">Allele frequency</text>
<text x="356.4" y="291.2" font-size="7.9" text-anchor="middle" textLength="101.2" lengthAdjust="spacingAndGlyphs" transform="rotate(-89.97 356.4 291.2)">Pathogenic SNPs in ACMG list</text>
</g>
<g id="pc">
<text x="0.2" y="409.7" font-size="13" font-weight="bold" fill="#000" transform="rotate(0.03 0.2 409.7)">c</text>
<text x="189.2" y="419.3" font-size="7.7" text-anchor="middle" textLength="139.2" lengthAdjust="spacingAndGlyphs" transform="rotate(0.03 189.2 419.3)">Allele counts of BTD | rs397514367</text>
<clipPath id="mc"><rect x="0" y="400" width="360" height="226"/></clipPath>
<g clip-path="url(#mc)" stroke="#111" stroke-width="0.62" stroke-linejoin="round">
<path d="M34.2 422L60 418.3L58.96 419.9L57.8 422.5L70 426L97.4 434.1L127.4 434.1L127.4 430L145.8 429.6L147.32 431.77L149.98 432.78L151.6 435L153.75 436.53L155.29 436.91L157.36 438.11L158.75 440.11L160.8 440.8L162.26 443.93L164.1 445.8L165.5 448.59L165.8 450.8L167.28 452.77L168.26 453.69L170.28 454.95L171.6 456.6L174.03 458.04L175.5 458.24L177.74 459.95L179.9 460.3L181.28 458.75L182.73 456.62L183.3 454.9L185.8 451.9L188.05 450.8L189.9 450.3L192.82 450.12L195.09 451.09L197.4 451.3L199.47 452.43L201.6 454.9L203.89 456.79L204.54 458.45L206.6 459.9L207.97 462.25L208.67 464.44L209.9 466.6L211.42 469.51L212.4 471.6L214.28 473.52L215.7 474.9L216.5 477.5L217.85 479.57L218.82 482.03L219.9 484.1L221.48 486L223.2 488.3L225.67 489.46L227.52 490.21L229.9 491.6L231.41 492.3L233.79 492.32L235.98 493.07L238.2 494.1L241.07 494.47L243.2 495L242.68 497.95L241.42 498.89L240.7 501.6L240.34 503.1L240.01 505.18L238.96 507.52L238.33 509.35L238.2 511.6L237.46 513.96L237.52 516.18L237.5 518.12L237.81 520.46L237.3 523.3L236.85 526.23L236.29 528.36L236.34 530.2L236.5 533.2L236.79 535.09L237.2 538L237.88 540.49L239.1 542.76L240.8 545L241.71 546.86L242 549.9L243.39 552.16L244.48 554.12L245.8 556.1L246.81 557.89L248.18 559.01L248.82 561.08L250.1 563L251.38 564.58L252.56 565.9L253.26 567.44L254.4 569.8L256 571.02L257.12 573.62L259.4 575.4L262.59 576.34L265 577.5L266.48 578.23L269.27 579.34L270.4 580.7L273.11 582L275.1 582.3L277.14 582L279.89 581.07L281.5 580L283.54 579.31L286.21 579.29L287.9 578.8L289.95 578.45L292.6 577.6L294.75 576.91L296.45 576.06L299 575.9L301.23 575.06L302.83 573.77L304.9 572.4L306.5 570.4L308.37 568.93L309.5 567.7L310.79 564.97L311.3 563L311.25 560.64L311.9 558.4L312.5 555.4L313.1 551.9L315.4 549L318.21 548.31L320 547.1L322.39 547.16L323.76 546.97L326.3 546L329.44 545.58L331.7 544.8L333.89 544.59L336.4 543.2L340.3 543.6L343.5 544.8L346.6 544L349.7 544.4L351.7 547.5L351.3 550.6L350.14 552.86L349 554.2L347.55 556.42L345.8 557.7L344.87 558.95L344.3 561.6L343.7 563.97L342.7 565.5L343.5 567.9L342.3 570.2L342.7 573.3L341.47 575.64L341.5 577.3L340.57 579.49L340 582.3L338.4 582.7L337.6 579.2L334.1 578.4L332.5 581.2L330.98 583.57L329.4 585.5L326.7 584.7L307.8 585.8L307.8 592.2L310.1 598.7L313.6 602.2L313.1 605.7L308.4 605.1L299 605.7L295.5 614.4L294.9 622.6L293.74 621.57L291.9 620.05L290.86 618.54L288.56 617.48L287.4 615.6L286.2 614.39L284.33 612.86L282.81 611.48L281.5 609.7L278.95 607.94L277.24 607.1L275.1 605.7L273.12 606.31L270.61 606.56L269.47 606.92L267.33 607.74L264.88 607.89L263.56 608.61L261 609.1L258.61 609.22L256.66 610.03L255.09 609.05L253.14 610.27L249.84 609.55L248.3 610.1L246.57 609.22L244.4 609.13L242.4 608.82L239.76 607.94L237.44 606.39L235.71 606.05L233.01 605.72L231.5 604.9L228.96 604.26L227.49 603.45L225.83 602.72L223.83 601.92L222 600.95L219.8 600.04L218.5 599.06L216.22 598.47L214.7 597.5L212.67 596.81L210.61 596.39L208.2 595L206.08 594.48L203.2 593.2L201.25 591.98L198.45 591.42L196.23 590.35L194.9 589.1L192.52 587.96L190.79 585.99L188.31 585.66L186.6 584.1L184.46 582.62L181.95 581.84L180.6 581.27L178.3 579.9L176.56 578.25L175.63 577.08L172.77 575.28L171.6 574.1L169.39 572.93L168.12 571.98L167.23 570.37L165.46 569.51L163.3 568.3L159.9 567L158.58 565.75L157.57 563.85L156.68 562.22L155.5 560.2L154.81 558.57L154.3 555.8L155.6 553.89L156.7 552.1L158.17 550L159.2 548.4L158.6 544.7L157.73 542.16L155.94 540.24L154.9 537.9L154.63 535.42L153.6 533.5L152.13 532.17L151.44 530.17L149.02 528.51L148.3 526.6L146.34 524.94L145.38 523.68L142.84 521.58L141.48 519.97L140 518.3L138.12 517.27L136.33 514.61L134 513.3L132 511.75L131.21 510.56L129.11 508.75L128.2 507.4L126.16 505.54L125.33 504.22L124.2 502.75L122.4 500.8L121.05 499.99L119.08 498.6L117.42 497.58L115.2 496.6L115.91 493.41L116.5 490.8L115.06 489L113.47 487.93L111.5 486.6L109.67 484.81L108.2 482.5L107.02 481.42L104.8 479.78L103.2 478.3L101.85 475.72L101.6 473.3L99.97 472.74L97.65 470.93L95.7 470.7L94.21 469.22L92.98 468.02L91.97 466.2L89.9 464.9L89.01 462.96L86.5 460.81L85.7 459.1L85.43 456.93L84.04 455.73L83.37 453L82.61 451.5L81.6 449.1L80.62 447L79.6 444.58L78.3 442.5L77.27 439.34L77.4 436.6L75.71 434.83L74.1 434.1L71.15 433.12L69.1 431.3L65.8 431.6L64.24 430.73L62.32 430.05L60.2 429.3L59.8 431.5L59.69 434.45L59.3 436.6L59.9 439.16L60.22 440.88L60.8 443.3L61.92 445.53L61.72 446.73L62.5 449.1L64.39 450.85L66.05 452.21L67.4 454.1L69 456.03L69.96 457.8L71.6 459.1L72.98 461.04L74.43 462.78L76.6 464.9L78.06 467.13L79.9 468.3L80.3 471.3L82.09 472.85L82.49 475.28L84.1 476.7L85.16 478.52L87.19 480.04L88.2 482.5L89.22 484.35L91.11 486.77L93.2 488.3L93.72 490.58L94.91 492.44L95.7 495L97.19 497.55L97.55 499.11L98.2 501.6L99.63 503.92L101.6 505.8L101.03 507.83L101.6 509.9L102.33 511.65L104.1 514.1L106.46 513.63L109 513.3L111.5 515.8L111.47 517.7L112.4 519.9L113.7 521.84L115.7 523.3L115.2 525.7L113.49 527.21L111.2 529.6L109 528.2L108.55 525.97L106.6 523.3L104.47 521.72L103.2 519.9L101.55 518.89L99.75 517.57L98.2 515.8L96.33 515.15L94.21 514.73L92.4 513.3L90 512.29L88.2 510.8L86.82 508.5L85.7 507.4L86.37 504.77L87.4 503.3L87.18 500.93L87.17 498.75L87.4 496.6L85.32 495L84.79 492.66L83.3 491.6L81.15 490.62L79.52 489.33L78.19 487.8L75.8 486.6L73.63 486.7L71.6 485.8L69.32 483.84L67.4 482.5L65.45 480.56L63.3 479.2L61.44 478.02L59.36 475.32L57.5 473.7L60.24 473.17L61.63 473.62L64.1 473.2L66.6 470.8L65.8 467.4L63.74 465.39L62.75 464.15L61.6 461.6L59.47 460.23L58.18 459.02L56.98 457.48L55.8 455.8L53.66 454.18L52.24 452.86L50.8 450.8L49.61 448.87L47.98 446.05L46.6 444.1L46.18 442.38L45.8 440L44.1 437.32L42.5 435L40.83 433.56L40 431.6L39.64 429.44L37.95 427.03L37.5 425L36.3 423.28z" fill="#e6e6e6"/>
<path d="M53.5 468.6L54.6 468.4L54.8 470.4L53.9 470.6z" fill="#e6e6e6" stroke-width="0.4"/>
<path d="M71.6 455L72.8 455.6L74.6 458.6L75.6 460.3L74.6 460.4L72.6 457.8z" fill="#e6e6e6" stroke-width="0.4"/>
<path d="M83.3 459.5L85.1 459L85.4 461.6L84 462.6L83 461.2z" fill="#e6e6e6" stroke-width="0.4"/>
<path d="M144.6 542.6L145.4 542.4L148.2 546L147.4 546.2z" fill="#e6e6e6" stroke-width="0.4"/>
<path d="M205.7 512.4L207.4 513L207.74 514.81L207.7 517.13L207.95 518.77L208.42 521.69L208.2 523.3L210.61 524.31L212.4 524.9L213.2 528.3L215.37 530.24L216.5 531.6L218.81 532.23L221.4 533.58L223.2 535L225.35 535.62L227.82 536.07L229.9 536.6L229.77 539.07L229.9 541.6L229 545L227.1 548.1L225.81 546.51L223.63 544.85L222.2 543.9L219.69 543.92L217.2 544.3L214.98 543.49L212.83 543.99L210.64 543.92L208.5 543.1L206.07 542.74L204.54 542.65L202.37 542.81L199.9 541.9L197.4 540.5L198.09 538.07L198.42 535.69L198.9 534.1L198.3 531L194.6 531.6L193.13 530.06L190.9 528.5L191.01 526.04L190.2 524.2L193.01 522.82L194.6 521.7L196.23 520.27L198.75 519.59L200.8 518L202.25 515.58L204.27 514.56z" fill="#a6c5e6"/>
<path d="M228.6 566.7L231.67 565.59L234 565.4L235.32 566.82L237.7 568.5L235.51 570.39L233.4 571.3L231.58 570.33L229.6 569.8z" fill="#a6c5e6"/>
<path d="M275.1 582.3L277.14 582L279.89 581.07L281.5 580L283.54 579.31L286.21 579.29L287.9 578.8L289.95 578.45L292.6 577.6L294.9 580L296.1 582.9L299 584.6L297.3 586.4L295.89 587.62L293.64 588.93L290.74 590.1L289.1 591.1L287.38 589.38L286.34 587.57L285.89 585.78L284.4 584.6L283.57 586.93L281.5 589.3L278.6 588.1L277.65 586.34L276.11 584.94z" fill="#8ba7cf"/>
<path d="M301.4 582.9L304.11 584.15L306 584.1L307.8 585.8L307.8 592.2L304.3 592.2L302.04 590.12L300.8 588.1L300.83 586.04z" fill="#8ba7cf"/>
<path d="M278.6 588.1L281.5 589.3L283.57 586.93L284.4 584.6L285.89 585.78L286.34 587.57L287.38 589.38L289.1 591.1L290.74 590.1L293.64 588.93L295.89 587.62L297.3 586.4L299 584.6L301.4 582.9L300.83 586.04L300.8 588.1L302.04 590.12L304.3 592.2L307.8 592.2L310.1 598.7L313.6 602.2L313.1 605.7L308.4 605.1L299 605.7L295.5 614.4L294.9 622.6L293.74 621.57L291.9 620.05L290.86 618.54L288.56 617.48L287.4 615.6L286.2 614.39L284.33 612.86L282.81 611.48L281.5 609.7L278.95 607.94L277.24 607.1L275.1 605.7L275.35 603.01L275.33 600.66L275.7 598.1L276.12 596.27L276.8 593.4L277.18 590.97z" fill="#7690bb"/>
<path d="M312.5 555.4L317.7 557.8L325.5 566.7L326.3 574.1L326.7 584.7L307.8 585.8L306 584.1L304.11 584.15L301.4 582.9L299 584.6L296.1 582.9L294.9 580L292.6 577.6L294.75 576.91L296.45 576.06L299 575.9L301.23 575.06L302.83 573.77L304.9 572.4L306.5 570.4L308.37 568.93L309.5 567.7L310.79 564.97L311.3 563L311.25 560.64L311.9 558.4z" fill="#1f3060"/>
<path d="M312.5 555.4L313.1 551.9L315.4 549L318.21 548.31L320 547.1L322.39 547.16L323.76 546.97L326.3 546L329.44 545.58L331.7 544.8L333.89 544.59L336.4 543.2L340.3 543.6L343.5 544.8L343.24 546.89L343.5 549.5L343.12 551.55L341.5 553.4L339.76 555.31L338 556.9L335.14 558.46L332.9 559.3L329.92 561.21L328.6 563.2L327.81 564.99L325.5 566.7L317.7 557.8z" fill="#a4c4e4"/>
<path d="M325.5 566.7L327.81 564.99L328.6 563.2L329.92 561.21L332.9 559.3L335.14 558.46L338 556.9L339.76 555.31L341.5 553.4L343.12 551.55L343.5 549.5L343.24 546.89L343.5 544.8L346.6 544L349.7 544.4L351.7 547.5L351.3 550.6L350.14 552.86L349 554.2L347.55 556.42L345.8 557.7L344.87 558.95L344.3 561.6L343.7 563.97L342.7 565.5L343.5 567.9L342.3 570.2L342.7 573.3L341.47 575.64L341.5 577.3L340.57 579.49L340 582.3L338.4 582.7L337.6 579.2L334.1 578.4L332.5 581.2L330.98 583.57L329.4 585.5L326.7 584.7L326.3 574.1z" fill="#b3d4f2"/>
<path d="M348.6 557.3L350.1 555.3L351.7 555.3L350.1 558.5z" fill="#b3d4f2" stroke-width="0.4"/>
<path d="M344.6 579.2L345.6 576.6" fill="none" stroke-width="0.5"/>
<circle cx="89.1" cy="477.5" r="0.3" fill="#111" stroke-width="0.3"/>
<circle cx="94.9" cy="472" r="0.3" fill="#111" stroke-width="0.3"/>
<circle cx="97.4" cy="494.6" r="0.3" fill="#111" stroke-width="0.3"/>
<circle cx="100.7" cy="498" r="0.3" fill="#111" stroke-width="0.3"/>
<circle cx="101.9" cy="501.6" r="0.3" fill="#111" stroke-width="0.3"/>
<circle cx="102.9" cy="505.6" r="0.3" fill="#111" stroke-width="0.3"/>
<circle cx="105.7" cy="511.3" r="0.3" fill="#111" stroke-width="0.3"/>
<circle cx="110.7" cy="514.6" r="0.3" fill="#111" stroke-width="0.3"/>
<circle cx="94.1" cy="472.4" r="0.3" fill="#111" stroke-width="0.3"/>
<circle cx="84.9" cy="466.6" r="0.3" fill="#111" stroke-width="0.3"/>
<circle cx="96.3" cy="490.5" r="0.3" fill="#111" stroke-width="0.3"/>
<circle cx="99.2" cy="496.2" r="0.3" fill="#111" stroke-width="0.3"/>
<g fill="none">
<path d="M65.8 471.3L80.3 471.3"/>
<path d="M57.8 422.5L58.6 426L60.2 429.3"/>
<path d="M121.2 434.3L120.94 437.35L120.7 440L120.99 442.37L123.06 444.56L123.2 446.6L123 448.73L123.23 451.73L124 453.3L123.81 455.74L123.93 456.98L122.84 459.71L123.16 461.01L122.4 463.3L121.46 465.33L120.38 466.66L119 469.1L119.9 472L121.06 474.1L121.5 476.6L123.43 479.07L125.03 481.14L125.7 483.3"/>
<path d="M125.7 483.3L123.89 484.39L122 485.75L120.2 487.47L118.26 488.72L116.5 490.8"/>
<path d="M125.7 483.3L126.59 486.31L128.2 488.3L130.31 490.14L132.3 491.32L134 493.3L135.72 494.73L136.99 496.03L137.97 498.63L140 500L141.06 502.21L141.47 504.58L142.5 506.6L144.02 507.72L145.27 510.49L146.63 511.27L148.3 513.3L149.84 515.59L151.8 518L152.79 519.37L153.53 522.15L154.3 524.2L155.43 526.21L156.7 528.5L155.89 529.98L155.5 532.5L153.6 533.5"/>
<path d="M140 500L141.44 499.32L144.22 497.83L145.8 497.5L146.05 494.58L146.6 491.6L147.81 490.01L148.92 487.87L150 485.3L152.15 485.85L155.62 486.39L157.5 487.5L159.86 488.39L161.75 488.66L163.56 488.92L165.8 489.1L167.68 487.46L169.1 485.8L171.85 485.53L174.9 485"/>
<path d="M179.9 460.3L178.08 461.96L177.26 463.57L175.8 464.9L174.3 467.04L174.71 468.73L173.51 470.48L172.4 472.4L172.48 475.26L172.94 476.72L173.62 479.05L173.6 481.6L174.9 485"/>
<path d="M174.9 485L176.2 486.61L176.81 488.06L178.3 490L178.86 492.17L178.92 494.3L178.5 496.18L178.77 498.26L179.1 500L180.45 501.84L181.49 503.48L183.3 505.8L184.69 506.79L187.4 507.4"/>
<path d="M187.4 507.4L185.7 510.8L182.87 510.75L179.9 511.6L177.3 512.86L176.19 514.87L174.1 515.8L174.12 518.6L173.56 520.49L172.9 523L171.61 524.82L169.8 526.7L169.62 528.58L169.2 531.6L168.5 534.7"/>
<path d="M187.4 507.4L187.4 504.9L189.76 505.17L192.11 506.14L194.1 505.8L196.61 506.69L199.1 508.3L201.46 509.45L203.2 510.8L205.7 512.4"/>
<path d="M215.7 475.2L212.4 474.2L209.9 475L207.83 476.75L207.05 478.01L204.9 480L206.02 482.71L207.4 485L205.69 486.13L203.68 488.27L201.6 490L202.31 492.55L203.48 493.26L204.7 495.73L204.9 497.5L206.64 499.76L208.87 500.79L209.9 502.5L207.76 503.75L205.7 504.1L205.08 507.38L204.9 509.9L205.7 512.4"/>
<path d="M216.3 477.5L216.85 480.64L216.5 483.3L218.64 484.88L220.13 487.17L221.5 489.1L224.2 490.62L226.31 491.81L228.2 493.3L228.14 495.81L228.11 497.45L229 500L226.46 501.58L224.9 503.3L223.64 504.62L222.18 506.16L219.77 507.73L218.2 509.1L217.19 511.31L217.02 514.02L217.41 515.66L216.5 518.3L215.86 519.89L213.69 522.27L212.4 523.3L212.4 524.9"/>
<path d="M229.9 536.6L232.59 536.01L234.13 537.19L236.7 536.6"/>
<path d="M156.7 528.5L158.98 528.63L161.7 529.2L162.56 530.99L164.8 532.9L166.94 533.36L168.5 534.7L168.5 538.5L170.09 540.75L171.24 542.49L173.5 544.7L174.7 547.2L172.78 548.32L169.8 549L168.65 551.16L168.5 553.4L166.66 551.54L164.2 550.5L162.42 550.78L159.9 551.5L156.7 552.1"/>
<path d="M168.5 534.7L169.93 532.65L170.4 531L174.1 531.6L175.43 533.3L176 535.4L179.7 534.7L180.9 537.2L179.18 538.37L177.2 540.3L175.55 542.64L174.7 544.7"/>
<path d="M174.7 547.2L177.2 547.8L180.9 548.4L183.12 547.7L184.7 546.5L185.36 544.15L185.3 542.5"/>
<path d="M184 538.5L185.85 536.36L187.39 535.38L189 534.1L191.76 535.98L193.3 537.9L191.82 540.22L190.2 542.2L188.3 541.94L185.3 542.5L184.42 541L184 538.5"/>
<path d="M190.2 542.2L194 541.5L197.4 540.5"/>
<path d="M197.4 541.9L196.99 543.64L195.87 545.33L194.9 547.4L193.83 549.48L193.53 551.75L192.4 553L193.02 554.9L193 558L195.63 558.87L198.6 559.9L200.12 560.99L202.62 562.17L204.2 562.3L206.14 562.89L208.92 562.75L210.4 562.3L211.47 560.86L212.3 558.6L210.99 557.02L209.8 554.9L210.75 552.51L212.21 550.9L212.9 548.7L215.46 547.44L217.2 546.8L218.5 544.3"/>
<path d="M222.2 543.9L222.54 546.36L222.2 548.7L220.28 550.58L219.17 551.95L217.2 553.6L216.61 555.86L214.7 558.6L212.9 561.1L212.3 562.3"/>
<path d="M222.2 548.7L224.86 548.24L227.1 548.1L228.89 550.18L229.6 552.4L229 556.1L232.1 557.4L233.2 554.75L234.6 553.6L237.7 553L238 555.27L238.3 557.4L236.38 558.25L234.6 559.9L232.1 563L229.6 564.8L227.6 563.28L226.07 562.78L224 561.7L220.9 563L218.82 561.02L217.2 559.9L214.7 558.6"/>
<path d="M237.7 553L239.47 551.3L241.5 549.5"/>
<path d="M238.3 557.4L238.6 559.1L241.45 559.68L243.3 560.3L241.5 563.8L241.02 566.21L240.9 567.8L241.97 568.95L244.4 570.2L242.1 572.5L242.15 574.24L242.7 576.6L245.02 576.93L247.9 577.8"/>
<path d="M247.9 577.8L250.3 578.4L251.29 580.5L252.6 582.4L256.1 583.6L256.53 585.42L257.3 588.3L260.2 588.9L263.1 587.7L264.9 590L266.6 593L268.53 593.16L271.32 593.41L272.8 593.59L275.4 593L276.8 593.4"/>
<path d="M247.9 577.8L245.6 580.1L243.16 580.39L240.34 581.47L238.6 582.4L236.3 583.6L234.29 584.16L232.02 584.62L229.8 585.6"/>
<path d="M229.8 585.6L231.25 588.02L231.6 590L232.5 592.42L233.3 595.3L232.27 597.82L232.2 599.4L230.63 600.7L229.3 602.9"/>
<path d="M190.5 583.4L191.84 580.64L193.2 579.75L194.9 577.2L196.84 576.92L198.82 577.99L201.1 577.8L204.11 579.1L206.7 579.7L209.8 579.7L211.85 578.54L213.86 577.6L216 576.6L219.7 576L221.77 578.02L223.4 579.7L225.21 581.21L227.32 582.73L228.55 584.44L229.8 585.6"/>
<path d="M206.7 579.7L205.73 577.64L205.4 575.4L207.9 574.7L208.34 572.42L209.41 570.39L210.4 568.5L210.99 565.38L212.6 563.16L212.9 561.1"/>
<path d="M193 558L189.9 557.74L187.8 557.7L185.54 559.17L184.05 559.42L182.2 560.8L184 563.9L185.5 567L183.09 568.75L181 569.5L178.61 570.23L177.5 571.5L177.28 573.62L177 576L175.5 577.5"/>
<path d="M168.3 571.5L171.5 569.5L173.8 569.42L176 570.3L177.5 571.5"/>
<path d="M229.6 564.8L227.8 564.8L227.21 566.88L227.77 568.29L227.08 570.52L227.1 572.9L226.6 574.43L226.5 577.2L223.4 579.7"/>
<path d="M219.7 576L221.6 572.5L225.3 572.3L227.1 572.9"/>
<path d="M221 566.7L222.8 565.4L223.64 568.01L224.37 569.68L225.3 572.3L221.6 572.5L221.78 569.17L221 566.7"/>
<path d="M220.9 563L221 566.7"/>
<path d="M278.6 588.1L277.18 590.97L276.8 593.4L276.12 596.27L275.7 598.1L275.33 600.66L275.35 603.01L275.1 605.7"/>
</g>
</g>
<defs><linearGradient id="bg" x1="0" y1="0" x2="0" y2="1"><stop offset="0" stop-color="#1f2f5f"/><stop offset="0.3" stop-color="#4d6395"/><stop offset="0.65" stop-color="#7c98c5"/><stop offset="1" stop-color="#b8dbfa"/></linearGradient></defs>
<rect x="278.3" y="437.7" width="19" height="108.3" fill="url(#bg)"/>
<g stroke="#fff" stroke-width="0.5" stroke-opacity="0.7">
<path d="M278.3 468.9h3.8M297.3 468.9h-3.8"/>
<path d="M278.3 507.4h3.8M297.3 507.4h-3.8"/>
</g>
<g font-size="7.2" fill="#222">
<text x="301.2" y="440.3" transform="rotate(0.03 301.2 440.3)">14</text>
<text x="301.2" y="471.5" transform="rotate(0.03 301.2 471.5)">10</text>
<text x="301.2" y="510" transform="rotate(0.03 301.2 510)">5</text>
<text x="301.2" y="548.6" transform="rotate(0.03 301.2 548.6)">0</text>
</g>
<text x="315.8" y="492.5" font-size="8.8" text-anchor="middle" textLength="51.5" lengthAdjust="spacingAndGlyphs" transform="rotate(90.03 315.8 492.5)">Allele counts</text>
</g>
<g id="pd">
<text x="0.1" y="623.8" font-size="13" font-weight="bold" fill="#000" transform="rotate(0.03 0.1 623.8)">d</text>
<rect x="92" y="624.8" width="489.2" height="147.8" fill="#fff"/>
<g shape-rendering="crispEdges">
<rect x="92" y="624.8" width="15.29" height="8.69" fill="#fd8d3c"/>
<rect x="107.29" y="624.8" width="15.29" height="8.69" fill="#fd984b"/>
<rect x="122.58" y="624.8" width="15.29" height="8.69" fill="#fd984b"/>
<rect x="137.86" y="624.8" width="15.29" height="8.69" fill="#fd9a4f"/>
<rect x="153.15" y="624.8" width="15.29" height="8.69" fill="#fd9244"/>
<rect x="168.44" y="624.8" width="15.29" height="8.69" fill="#fd8d3c"/>
<rect x="183.73" y="624.8" width="15.29" height="8.69" fill="#f3701b"/>
<rect x="199.01" y="624.8" width="15.29" height="8.69" fill="#fd9547"/>
<rect x="214.3" y="624.8" width="15.29" height="8.69" fill="#fd8d3c"/>
<rect x="229.59" y="624.8" width="15.29" height="8.69" fill="#f77c28"/>
<rect x="244.88" y="624.8" width="15.29" height="8.69" fill="#f16a15"/>
<rect x="260.16" y="624.8" width="15.29" height="8.69" fill="#f87f2c"/>
<rect x="275.45" y="624.8" width="15.29" height="8.69" fill="#fd9244"/>
<rect x="290.74" y="624.8" width="15.29" height="8.69" fill="#f16a15"/>
<rect x="306.03" y="624.8" width="15.29" height="8.69" fill="#f3701b"/>
<rect x="321.31" y="624.8" width="15.29" height="8.69" fill="#e35508"/>
<rect x="336.6" y="624.8" width="15.29" height="8.69" fill="#f3701b"/>
<rect x="351.89" y="624.8" width="15.29" height="8.69" fill="#f77c28"/>
<rect x="367.18" y="624.8" width="15.29" height="8.69" fill="#e35508"/>
<rect x="382.46" y="624.8" width="15.29" height="8.69" fill="#ea600e"/>
<rect x="397.75" y="624.8" width="15.29" height="8.69" fill="#ee6511"/>
<rect x="413.04" y="624.8" width="15.29" height="8.69" fill="#cd4401"/>
<rect x="428.33" y="624.8" width="15.29" height="8.69" fill="#e35508"/>
<rect x="443.61" y="624.8" width="15.29" height="8.69" fill="#e65a0b"/>
<rect x="458.9" y="624.8" width="15.29" height="8.69" fill="#df5005"/>
<rect x="474.19" y="624.8" width="15.29" height="8.69" fill="#e35508"/>
<rect x="489.48" y="624.8" width="15.29" height="8.69" fill="#a43503"/>
<rect x="504.76" y="624.8" width="15.29" height="8.69" fill="#ac3803"/>
<rect x="520.05" y="624.8" width="15.29" height="8.69" fill="#bc3e02"/>
<rect x="535.34" y="624.8" width="15.29" height="8.69" fill="#b43b02"/>
<rect x="550.62" y="624.8" width="15.29" height="8.69" fill="#9e3303"/>
<rect x="565.91" y="624.8" width="15.29" height="8.69" fill="#c54102"/>
<rect x="92" y="633.49" width="15.29" height="8.69" fill="#e65a0b"/>
<rect x="107.29" y="633.49" width="15.29" height="8.69" fill="#e35508"/>
<rect x="122.58" y="633.49" width="15.29" height="8.69" fill="#ea600e"/>
<rect x="137.86" y="633.49" width="15.29" height="8.69" fill="#e85d0d"/>
<rect x="153.15" y="633.49" width="15.29" height="8.69" fill="#f3701b"/>
<rect x="168.44" y="633.49" width="15.29" height="8.69" fill="#ea600e"/>
<rect x="183.73" y="633.49" width="15.29" height="8.69" fill="#f3701b"/>
<rect x="199.01" y="633.49" width="15.29" height="8.69" fill="#f67925"/>
<rect x="214.3" y="633.49" width="15.29" height="8.69" fill="#e65a0b"/>
<rect x="229.59" y="633.49" width="15.29" height="8.69" fill="#f57622"/>
<rect x="244.88" y="633.49" width="15.29" height="8.69" fill="#db4b02"/>
<rect x="260.16" y="633.49" width="15.29" height="8.69" fill="#f57622"/>
<rect x="275.45" y="633.49" width="15.29" height="8.69" fill="#f57622"/>
<rect x="290.74" y="633.49" width="15.29" height="8.69" fill="#ee6511"/>
<rect x="306.03" y="633.49" width="15.29" height="8.69" fill="#f16a15"/>
<rect x="321.31" y="633.49" width="15.29" height="8.69" fill="#c54102"/>
<rect x="336.6" y="633.49" width="15.29" height="8.69" fill="#ee6511"/>
<rect x="351.89" y="633.49" width="15.29" height="8.69" fill="#ea600e"/>
<rect x="367.18" y="633.49" width="15.29" height="8.69" fill="#f16a15"/>
<rect x="382.46" y="633.49" width="15.29" height="8.69" fill="#f3701b"/>
<rect x="397.75" y="633.49" width="15.29" height="8.69" fill="#ee6511"/>
<rect x="413.04" y="633.49" width="15.29" height="8.69" fill="#db4b02"/>
<rect x="428.33" y="633.49" width="15.29" height="8.69" fill="#df5005"/>
<rect x="443.61" y="633.49" width="15.29" height="8.69" fill="#db4b02"/>
<rect x="458.9" y="633.49" width="15.29" height="8.69" fill="#db4b02"/>
<rect x="474.19" y="633.49" width="15.29" height="8.69" fill="#e35508"/>
<rect x="489.48" y="633.49" width="15.29" height="8.69" fill="#c54102"/>
<rect x="504.76" y="633.49" width="15.29" height="8.69" fill="#cd4401"/>
<rect x="520.05" y="633.49" width="15.29" height="8.69" fill="#c54102"/>
<rect x="535.34" y="633.49" width="15.29" height="8.69" fill="#a43503"/>
<rect x="550.62" y="633.49" width="15.29" height="8.69" fill="#b43b02"/>
<rect x="565.91" y="633.49" width="15.29" height="8.69" fill="#c54102"/>
<rect x="92" y="642.19" width="15.29" height="8.69" fill="#fdd0a2"/>
<rect x="107.29" y="642.19" width="15.29" height="8.69" fill="#fdc28c"/>
<rect x="122.58" y="642.19" width="15.29" height="8.69" fill="#fdd0a2"/>
<rect x="137.86" y="642.19" width="15.29" height="8.69" fill="#fdcb99"/>
<rect x="153.15" y="642.19" width="15.29" height="8.69" fill="#fdc590"/>
<rect x="168.44" y="642.19" width="15.29" height="8.69" fill="#fdd2a6"/>
<rect x="183.73" y="642.19" width="15.29" height="8.69" fill="#fdd9b4"/>
<rect x="199.01" y="642.19" width="15.29" height="8.69" fill="#fdd2a6"/>
<rect x="214.3" y="642.19" width="15.29" height="8.69" fill="#fdd0a2"/>
<rect x="229.59" y="642.19" width="15.29" height="8.69" fill="#fdcb99"/>
<rect x="244.88" y="642.19" width="15.29" height="8.69" fill="#fdd2a6"/>
<rect x="260.16" y="642.19" width="15.29" height="8.69" fill="#fdd2a6"/>
<rect x="275.45" y="642.19" width="15.29" height="8.69" fill="#fdcd9e"/>
<rect x="290.74" y="642.19" width="15.29" height="8.69" fill="#fdd9b4"/>
<rect x="306.03" y="642.19" width="15.29" height="8.69" fill="#fdd5ad"/>
<rect x="321.31" y="642.19" width="15.29" height="8.69" fill="#fee0c2"/>
<rect x="336.6" y="642.19" width="15.29" height="8.69" fill="#fdd5ad"/>
<rect x="351.89" y="642.19" width="15.29" height="8.69" fill="#fdcd9e"/>
<rect x="367.18" y="642.19" width="15.29" height="8.69" fill="#fee0c2"/>
<rect x="382.46" y="642.19" width="15.29" height="8.69" fill="#fdd9b4"/>
<rect x="397.75" y="642.19" width="15.29" height="8.69" fill="#fedcbb"/>
<rect x="413.04" y="642.19" width="15.29" height="8.69" fill="#fee0c2"/>
<rect x="428.33" y="642.19" width="15.29" height="8.69" fill="#fdd5ad"/>
<rect x="443.61" y="642.19" width="15.29" height="8.69" fill="#fedcbb"/>
<rect x="458.9" y="642.19" width="15.29" height="8.69" fill="#fee0c2"/>
<rect x="474.19" y="642.19" width="15.29" height="8.69" fill="#fee0c2"/>
<rect x="489.48" y="642.19" width="15.29" height="8.69" fill="#fee7cf"/>
<rect x="504.76" y="642.19" width="15.29" height="8.69" fill="#fee3c9"/>
<rect x="520.05" y="642.19" width="15.29" height="8.69" fill="#fee0c2"/>
<rect x="535.34" y="642.19" width="15.29" height="8.69" fill="#fee3c9"/>
<rect x="550.62" y="642.19" width="15.29" height="8.69" fill="#fee3c9"/>
<rect x="565.91" y="642.19" width="15.29" height="8.69" fill="#fee3c9"/>
<rect x="92" y="650.88" width="15.29" height="8.69" fill="#fdcb99"/>
<rect x="107.29" y="650.88" width="15.29" height="8.69" fill="#fdc28c"/>
<rect x="122.58" y="650.88" width="15.29" height="8.69" fill="#fdc895"/>
<rect x="137.86" y="650.88" width="15.29" height="8.69" fill="#fdcb99"/>
<rect x="153.15" y="650.88" width="15.29" height="8.69" fill="#fdba7f"/>
<rect x="168.44" y="650.88" width="15.29" height="8.69" fill="#fdd0a2"/>
<rect x="183.73" y="650.88" width="15.29" height="8.69" fill="#fdd2a6"/>
<rect x="199.01" y="650.88" width="15.29" height="8.69" fill="#fdc895"/>
<rect x="214.3" y="650.88" width="15.29" height="8.69" fill="#fdcb99"/>
<rect x="229.59" y="650.88" width="15.29" height="8.69" fill="#fdba7f"/>
<rect x="244.88" y="650.88" width="15.29" height="8.69" fill="#fdc895"/>
<rect x="260.16" y="650.88" width="15.29" height="8.69" fill="#fdcb99"/>
<rect x="275.45" y="650.88" width="15.29" height="8.69" fill="#fdc895"/>
<rect x="290.74" y="650.88" width="15.29" height="8.69" fill="#fdd2a6"/>
<rect x="306.03" y="650.88" width="15.29" height="8.69" fill="#fdc895"/>
<rect x="321.31" y="650.88" width="15.29" height="8.69" fill="#fdc895"/>
<rect x="336.6" y="650.88" width="15.29" height="8.69" fill="#fdcd9e"/>
<rect x="351.89" y="650.88" width="15.29" height="8.69" fill="#fdc895"/>
<rect x="367.18" y="650.88" width="15.29" height="8.69" fill="#fdc895"/>
<rect x="382.46" y="650.88" width="15.29" height="8.69" fill="#fdc28c"/>
<rect x="397.75" y="650.88" width="15.29" height="8.69" fill="#fdbd83"/>
<rect x="413.04" y="650.88" width="15.29" height="8.69" fill="#fdcd9e"/>
<rect x="428.33" y="650.88" width="15.29" height="8.69" fill="#fdc895"/>
<rect x="443.61" y="650.88" width="15.29" height="8.69" fill="#fdc895"/>
<rect x="458.9" y="650.88" width="15.29" height="8.69" fill="#fdc895"/>
<rect x="474.19" y="650.88" width="15.29" height="8.69" fill="#fdc28c"/>
<rect x="489.48" y="650.88" width="15.29" height="8.69" fill="#fdbd83"/>
<rect x="504.76" y="650.88" width="15.29" height="8.69" fill="#fdb87a"/>
<rect x="520.05" y="650.88" width="15.29" height="8.69" fill="#fdb272"/>
<rect x="535.34" y="650.88" width="15.29" height="8.69" fill="#fdb272"/>
<rect x="550.62" y="650.88" width="15.29" height="8.69" fill="#fdb87a"/>
<rect x="565.91" y="650.88" width="15.29" height="8.69" fill="#fdb87a"/>
<rect x="92" y="659.58" width="15.29" height="8.69" fill="#c54102"/>
<rect x="107.29" y="659.58" width="15.29" height="8.69" fill="#dd4d04"/>
<rect x="122.58" y="659.58" width="15.29" height="8.69" fill="#df5005"/>
<rect x="137.86" y="659.58" width="15.29" height="8.69" fill="#e65a0b"/>
<rect x="153.15" y="659.58" width="15.29" height="8.69" fill="#d94801"/>
<rect x="168.44" y="659.58" width="15.29" height="8.69" fill="#e65a0b"/>
<rect x="183.73" y="659.58" width="15.29" height="8.69" fill="#f16a15"/>
<rect x="199.01" y="659.58" width="15.29" height="8.69" fill="#db4b02"/>
<rect x="214.3" y="659.58" width="15.29" height="8.69" fill="#df5005"/>
<rect x="229.59" y="659.58" width="15.29" height="8.69" fill="#bc3e02"/>
<rect x="244.88" y="659.58" width="15.29" height="8.69" fill="#db4b02"/>
<rect x="260.16" y="659.58" width="15.29" height="8.69" fill="#e35508"/>
<rect x="275.45" y="659.58" width="15.29" height="8.69" fill="#df5005"/>
<rect x="290.74" y="659.58" width="15.29" height="8.69" fill="#e35508"/>
<rect x="306.03" y="659.58" width="15.29" height="8.69" fill="#e35508"/>
<rect x="321.31" y="659.58" width="15.29" height="8.69" fill="#df5005"/>
<rect x="336.6" y="659.58" width="15.29" height="8.69" fill="#f3701b"/>
<rect x="351.89" y="659.58" width="15.29" height="8.69" fill="#e35508"/>
<rect x="367.18" y="659.58" width="15.29" height="8.69" fill="#ea600e"/>
<rect x="382.46" y="659.58" width="15.29" height="8.69" fill="#f57622"/>
<rect x="397.75" y="659.58" width="15.29" height="8.69" fill="#df5005"/>
<rect x="413.04" y="659.58" width="15.29" height="8.69" fill="#ee6511"/>
<rect x="428.33" y="659.58" width="15.29" height="8.69" fill="#e35508"/>
<rect x="443.61" y="659.58" width="15.29" height="8.69" fill="#f3701b"/>
<rect x="458.9" y="659.58" width="15.29" height="8.69" fill="#ee6511"/>
<rect x="474.19" y="659.58" width="15.29" height="8.69" fill="#e35508"/>
<rect x="489.48" y="659.58" width="15.29" height="8.69" fill="#db4b02"/>
<rect x="504.76" y="659.58" width="15.29" height="8.69" fill="#d54701"/>
<rect x="520.05" y="659.58" width="15.29" height="8.69" fill="#b43b02"/>
<rect x="535.34" y="659.58" width="15.29" height="8.69" fill="#bc3e02"/>
<rect x="550.62" y="659.58" width="15.29" height="8.69" fill="#bc3e02"/>
<rect x="565.91" y="659.58" width="15.29" height="8.69" fill="#db4b02"/>
<rect x="92" y="668.27" width="15.29" height="8.69" fill="#e35508"/>
<rect x="107.29" y="668.27" width="15.29" height="8.69" fill="#e15307"/>
<rect x="122.58" y="668.27" width="15.29" height="8.69" fill="#cd4401"/>
<rect x="137.86" y="668.27" width="15.29" height="8.69" fill="#ea600e"/>
<rect x="153.15" y="668.27" width="15.29" height="8.69" fill="#dd4d04"/>
<rect x="168.44" y="668.27" width="15.29" height="8.69" fill="#e35508"/>
<rect x="183.73" y="668.27" width="15.29" height="8.69" fill="#c54102"/>
<rect x="199.01" y="668.27" width="15.29" height="8.69" fill="#ac3803"/>
<rect x="214.3" y="668.27" width="15.29" height="8.69" fill="#db4b02"/>
<rect x="229.59" y="668.27" width="15.29" height="8.69" fill="#c54102"/>
<rect x="244.88" y="668.27" width="15.29" height="8.69" fill="#e35508"/>
<rect x="260.16" y="668.27" width="15.29" height="8.69" fill="#cd4401"/>
<rect x="275.45" y="668.27" width="15.29" height="8.69" fill="#ac3803"/>
<rect x="290.74" y="668.27" width="15.29" height="8.69" fill="#df5005"/>
<rect x="306.03" y="668.27" width="15.29" height="8.69" fill="#d94801"/>
<rect x="321.31" y="668.27" width="15.29" height="8.69" fill="#df5005"/>
<rect x="336.6" y="668.27" width="15.29" height="8.69" fill="#c54102"/>
<rect x="351.89" y="668.27" width="15.29" height="8.69" fill="#cd4401"/>
<rect x="367.18" y="668.27" width="15.29" height="8.69" fill="#a43503"/>
<rect x="382.46" y="668.27" width="15.29" height="8.69" fill="#ac3803"/>
<rect x="397.75" y="668.27" width="15.29" height="8.69" fill="#c54102"/>
<rect x="413.04" y="668.27" width="15.29" height="8.69" fill="#d54701"/>
<rect x="428.33" y="668.27" width="15.29" height="8.69" fill="#db4b02"/>
<rect x="443.61" y="668.27" width="15.29" height="8.69" fill="#db4b02"/>
<rect x="458.9" y="668.27" width="15.29" height="8.69" fill="#e65a0b"/>
<rect x="474.19" y="668.27" width="15.29" height="8.69" fill="#db4b02"/>
<rect x="489.48" y="668.27" width="15.29" height="8.69" fill="#db4b02"/>
<rect x="504.76" y="668.27" width="15.29" height="8.69" fill="#db4b02"/>
<rect x="520.05" y="668.27" width="15.29" height="8.69" fill="#ea600e"/>
<rect x="535.34" y="668.27" width="15.29" height="8.69" fill="#ee6511"/>
<rect x="550.62" y="668.27" width="15.29" height="8.69" fill="#ea600e"/>
<rect x="565.91" y="668.27" width="15.29" height="8.69" fill="#e35508"/>
<rect x="92" y="676.96" width="15.29" height="8.69" fill="#ee6511"/>
<rect x="107.29" y="676.96" width="15.29" height="8.69" fill="#fd8d3c"/>
<rect x="122.58" y="676.96" width="15.29" height="8.69" fill="#f87f2c"/>
<rect x="137.86" y="676.96" width="15.29" height="8.69" fill="#fb8735"/>
<rect x="153.15" y="676.96" width="15.29" height="8.69" fill="#f3701b"/>
<rect x="168.44" y="676.96" width="15.29" height="8.69" fill="#ea600e"/>
<rect x="183.73" y="676.96" width="15.29" height="8.69" fill="#ea600e"/>
<rect x="199.01" y="676.96" width="15.29" height="8.69" fill="#ee6511"/>
<rect x="214.3" y="676.96" width="15.29" height="8.69" fill="#ea600e"/>
<rect x="229.59" y="676.96" width="15.29" height="8.69" fill="#f87f2c"/>
<rect x="244.88" y="676.96" width="15.29" height="8.69" fill="#e65a0b"/>
<rect x="260.16" y="676.96" width="15.29" height="8.69" fill="#e65a0b"/>
<rect x="275.45" y="676.96" width="15.29" height="8.69" fill="#ee6511"/>
<rect x="290.74" y="676.96" width="15.29" height="8.69" fill="#e35508"/>
<rect x="306.03" y="676.96" width="15.29" height="8.69" fill="#e35508"/>
<rect x="321.31" y="676.96" width="15.29" height="8.69" fill="#a43503"/>
<rect x="336.6" y="676.96" width="15.29" height="8.69" fill="#b43b02"/>
<rect x="351.89" y="676.96" width="15.29" height="8.69" fill="#e65a0b"/>
<rect x="367.18" y="676.96" width="15.29" height="8.69" fill="#a43503"/>
<rect x="382.46" y="676.96" width="15.29" height="8.69" fill="#c54102"/>
<rect x="397.75" y="676.96" width="15.29" height="8.69" fill="#ac3803"/>
<rect x="413.04" y="676.96" width="15.29" height="8.69" fill="#6c2307"/>
<rect x="428.33" y="676.96" width="15.29" height="8.69" fill="#712406"/>
<rect x="443.61" y="676.96" width="15.29" height="8.69" fill="#682207"/>
<rect x="458.9" y="676.96" width="15.29" height="8.69" fill="#ac3803"/>
<rect x="474.19" y="676.96" width="15.29" height="8.69" fill="#9e3303"/>
<rect x="489.48" y="676.96" width="15.29" height="8.69" fill="#682207"/>
<rect x="504.76" y="676.96" width="15.29" height="8.69" fill="#632108"/>
<rect x="520.05" y="676.96" width="15.29" height="8.69" fill="#a43503"/>
<rect x="535.34" y="676.96" width="15.29" height="8.69" fill="#b43b02"/>
<rect x="550.62" y="676.96" width="15.29" height="8.69" fill="#b43b02"/>
<rect x="565.91" y="676.96" width="15.29" height="8.69" fill="#a43503"/>
<rect x="92" y="685.66" width="15.29" height="8.69" fill="#fd9a4f"/>
<rect x="107.29" y="685.66" width="15.29" height="8.69" fill="#fd9f56"/>
<rect x="122.58" y="685.66" width="15.29" height="8.69" fill="#fda762"/>
<rect x="137.86" y="685.66" width="15.29" height="8.69" fill="#fda25a"/>
<rect x="153.15" y="685.66" width="15.29" height="8.69" fill="#fda25a"/>
<rect x="168.44" y="685.66" width="15.29" height="8.69" fill="#fda25a"/>
<rect x="183.73" y="685.66" width="15.29" height="8.69" fill="#fd9f56"/>
<rect x="199.01" y="685.66" width="15.29" height="8.69" fill="#fd9d53"/>
<rect x="214.3" y="685.66" width="15.29" height="8.69" fill="#fd9d53"/>
<rect x="229.59" y="685.66" width="15.29" height="8.69" fill="#fda25a"/>
<rect x="244.88" y="685.66" width="15.29" height="8.69" fill="#fd9d53"/>
<rect x="260.16" y="685.66" width="15.29" height="8.69" fill="#fd9d53"/>
<rect x="275.45" y="685.66" width="15.29" height="8.69" fill="#fda25a"/>
<rect x="290.74" y="685.66" width="15.29" height="8.69" fill="#fda25a"/>
<rect x="306.03" y="685.66" width="15.29" height="8.69" fill="#fd9f56"/>
<rect x="321.31" y="685.66" width="15.29" height="8.69" fill="#fda762"/>
<rect x="336.6" y="685.66" width="15.29" height="8.69" fill="#fd9d53"/>
<rect x="351.89" y="685.66" width="15.29" height="8.69" fill="#fda25a"/>
<rect x="367.18" y="685.66" width="15.29" height="8.69" fill="#fda25a"/>
<rect x="382.46" y="685.66" width="15.29" height="8.69" fill="#fd9d53"/>
<rect x="397.75" y="685.66" width="15.29" height="8.69" fill="#fda762"/>
<rect x="413.04" y="685.66" width="15.29" height="8.69" fill="#fdb272"/>
<rect x="428.33" y="685.66" width="15.29" height="8.69" fill="#fda762"/>
<rect x="443.61" y="685.66" width="15.29" height="8.69" fill="#fda762"/>
<rect x="458.9" y="685.66" width="15.29" height="8.69" fill="#fdad69"/>
<rect x="474.19" y="685.66" width="15.29" height="8.69" fill="#fdb272"/>
<rect x="489.48" y="685.66" width="15.29" height="8.69" fill="#fdc28c"/>
<rect x="504.76" y="685.66" width="15.29" height="8.69" fill="#fdbd83"/>
<rect x="520.05" y="685.66" width="15.29" height="8.69" fill="#fdb272"/>
<rect x="535.34" y="685.66" width="15.29" height="8.69" fill="#fdb272"/>
<rect x="550.62" y="685.66" width="15.29" height="8.69" fill="#fdb272"/>
<rect x="565.91" y="685.66" width="15.29" height="8.69" fill="#fdbd83"/>
<rect x="92" y="694.35" width="15.29" height="8.69" fill="#fd8d3c"/>
<rect x="107.29" y="694.35" width="15.29" height="8.69" fill="#fb8735"/>
<rect x="122.58" y="694.35" width="15.29" height="8.69" fill="#f16a15"/>
<rect x="137.86" y="694.35" width="15.29" height="8.69" fill="#f3701b"/>
<rect x="153.15" y="694.35" width="15.29" height="8.69" fill="#f3701b"/>
<rect x="168.44" y="694.35" width="15.29" height="8.69" fill="#f3701b"/>
<rect x="183.73" y="694.35" width="15.29" height="8.69" fill="#f3701b"/>
<rect x="199.01" y="694.35" width="15.29" height="8.69" fill="#f57622"/>
<rect x="214.3" y="694.35" width="15.29" height="8.69" fill="#fd8d3c"/>
<rect x="229.59" y="694.35" width="15.29" height="8.69" fill="#f3701b"/>
<rect x="244.88" y="694.35" width="15.29" height="8.69" fill="#fd9244"/>
<rect x="260.16" y="694.35" width="15.29" height="8.69" fill="#fd8d3c"/>
<rect x="275.45" y="694.35" width="15.29" height="8.69" fill="#f3701b"/>
<rect x="290.74" y="694.35" width="15.29" height="8.69" fill="#f87f2c"/>
<rect x="306.03" y="694.35" width="15.29" height="8.69" fill="#f77c28"/>
<rect x="321.31" y="694.35" width="15.29" height="8.69" fill="#fd9244"/>
<rect x="336.6" y="694.35" width="15.29" height="8.69" fill="#fd9244"/>
<rect x="351.89" y="694.35" width="15.29" height="8.69" fill="#fb8735"/>
<rect x="367.18" y="694.35" width="15.29" height="8.69" fill="#fd9d53"/>
<rect x="382.46" y="694.35" width="15.29" height="8.69" fill="#fd8d3c"/>
<rect x="397.75" y="694.35" width="15.29" height="8.69" fill="#fd984b"/>
<rect x="413.04" y="694.35" width="15.29" height="8.69" fill="#fd9d53"/>
<rect x="428.33" y="694.35" width="15.29" height="8.69" fill="#fd9244"/>
<rect x="443.61" y="694.35" width="15.29" height="8.69" fill="#fd984b"/>
<rect x="458.9" y="694.35" width="15.29" height="8.69" fill="#fd984b"/>
<rect x="474.19" y="694.35" width="15.29" height="8.69" fill="#f9812f"/>
<rect x="489.48" y="694.35" width="15.29" height="8.69" fill="#fd9d53"/>
<rect x="504.76" y="694.35" width="15.29" height="8.69" fill="#fd9d53"/>
<rect x="520.05" y="694.35" width="15.29" height="8.69" fill="#fd984b"/>
<rect x="535.34" y="694.35" width="15.29" height="8.69" fill="#fd9d53"/>
<rect x="550.62" y="694.35" width="15.29" height="8.69" fill="#fd9d53"/>
<rect x="565.91" y="694.35" width="15.29" height="8.69" fill="#fda25a"/>
<rect x="92" y="703.05" width="15.29" height="8.69" fill="#fda25a"/>
<rect x="107.29" y="703.05" width="15.29" height="8.69" fill="#fda25a"/>
<rect x="122.58" y="703.05" width="15.29" height="8.69" fill="#fda762"/>
<rect x="137.86" y="703.05" width="15.29" height="8.69" fill="#fd9f56"/>
<rect x="153.15" y="703.05" width="15.29" height="8.69" fill="#fda762"/>
<rect x="168.44" y="703.05" width="15.29" height="8.69" fill="#fda25a"/>
<rect x="183.73" y="703.05" width="15.29" height="8.69" fill="#fda762"/>
<rect x="199.01" y="703.05" width="15.29" height="8.69" fill="#fd9d53"/>
<rect x="214.3" y="703.05" width="15.29" height="8.69" fill="#fda25a"/>
<rect x="229.59" y="703.05" width="15.29" height="8.69" fill="#fd9d53"/>
<rect x="244.88" y="703.05" width="15.29" height="8.69" fill="#fda25a"/>
<rect x="260.16" y="703.05" width="15.29" height="8.69" fill="#fda25a"/>
<rect x="275.45" y="703.05" width="15.29" height="8.69" fill="#fda25a"/>
<rect x="290.74" y="703.05" width="15.29" height="8.69" fill="#fda25a"/>
<rect x="306.03" y="703.05" width="15.29" height="8.69" fill="#fda762"/>
<rect x="321.31" y="703.05" width="15.29" height="8.69" fill="#fda762"/>
<rect x="336.6" y="703.05" width="15.29" height="8.69" fill="#fda25a"/>
<rect x="351.89" y="703.05" width="15.29" height="8.69" fill="#fda762"/>
<rect x="367.18" y="703.05" width="15.29" height="8.69" fill="#fda762"/>
<rect x="382.46" y="703.05" width="15.29" height="8.69" fill="#fda762"/>
<rect x="397.75" y="703.05" width="15.29" height="8.69" fill="#fda762"/>
<rect x="413.04" y="703.05" width="15.29" height="8.69" fill="#fdad69"/>
<rect x="428.33" y="703.05" width="15.29" height="8.69" fill="#fda762"/>
<rect x="443.61" y="703.05" width="15.29" height="8.69" fill="#fda762"/>
<rect x="458.9" y="703.05" width="15.29" height="8.69" fill="#fda762"/>
<rect x="474.19" y="703.05" width="15.29" height="8.69" fill="#fda762"/>
<rect x="489.48" y="703.05" width="15.29" height="8.69" fill="#fda762"/>
<rect x="504.76" y="703.05" width="15.29" height="8.69" fill="#fda762"/>
<rect x="520.05" y="703.05" width="15.29" height="8.69" fill="#fda25a"/>
<rect x="535.34" y="703.05" width="15.29" height="8.69" fill="#fda762"/>
<rect x="550.62" y="703.05" width="15.29" height="8.69" fill="#fda25a"/>
<rect x="565.91" y="703.05" width="15.29" height="8.69" fill="#fda762"/>
<rect x="92" y="711.74" width="15.29" height="8.69" fill="#fd9244"/>
<rect x="107.29" y="711.74" width="15.29" height="8.69" fill="#fb8735"/>
<rect x="122.58" y="711.74" width="15.29" height="8.69" fill="#fd9244"/>
<rect x="137.86" y="711.74" width="15.29" height="8.69" fill="#fd984b"/>
<rect x="153.15" y="711.74" width="15.29" height="8.69" fill="#fb8735"/>
<rect x="168.44" y="711.74" width="15.29" height="8.69" fill="#fd9a4f"/>
<rect x="183.73" y="711.74" width="15.29" height="8.69" fill="#fd8d3c"/>
<rect x="199.01" y="711.74" width="15.29" height="8.69" fill="#fd9244"/>
<rect x="214.3" y="711.74" width="15.29" height="8.69" fill="#fd984b"/>
<rect x="229.59" y="711.74" width="15.29" height="8.69" fill="#fd984b"/>
<rect x="244.88" y="711.74" width="15.29" height="8.69" fill="#f3701b"/>
<rect x="260.16" y="711.74" width="15.29" height="8.69" fill="#fd984b"/>
<rect x="275.45" y="711.74" width="15.29" height="8.69" fill="#fd984b"/>
<rect x="290.74" y="711.74" width="15.29" height="8.69" fill="#fd984b"/>
<rect x="306.03" y="711.74" width="15.29" height="8.69" fill="#fd8d3c"/>
<rect x="321.31" y="711.74" width="15.29" height="8.69" fill="#f57622"/>
<rect x="336.6" y="711.74" width="15.29" height="8.69" fill="#fd8d3c"/>
<rect x="351.89" y="711.74" width="15.29" height="8.69" fill="#f77c28"/>
<rect x="367.18" y="711.74" width="15.29" height="8.69" fill="#f77c28"/>
<rect x="382.46" y="711.74" width="15.29" height="8.69" fill="#fb8735"/>
<rect x="397.75" y="711.74" width="15.29" height="8.69" fill="#f57622"/>
<rect x="413.04" y="711.74" width="15.29" height="8.69" fill="#f77c28"/>
<rect x="428.33" y="711.74" width="15.29" height="8.69" fill="#f57622"/>
<rect x="443.61" y="711.74" width="15.29" height="8.69" fill="#f77c28"/>
<rect x="458.9" y="711.74" width="15.29" height="8.69" fill="#f9812f"/>
<rect x="474.19" y="711.74" width="15.29" height="8.69" fill="#f57622"/>
<rect x="489.48" y="711.74" width="15.29" height="8.69" fill="#f9812f"/>
<rect x="504.76" y="711.74" width="15.29" height="8.69" fill="#fd8d3c"/>
<rect x="520.05" y="711.74" width="15.29" height="8.69" fill="#f77c28"/>
<rect x="535.34" y="711.74" width="15.29" height="8.69" fill="#f3701b"/>
<rect x="550.62" y="711.74" width="15.29" height="8.69" fill="#f16a15"/>
<rect x="565.91" y="711.74" width="15.29" height="8.69" fill="#f3701b"/>
<rect x="92" y="720.44" width="15.29" height="8.69" fill="#a43503"/>
<rect x="107.29" y="720.44" width="15.29" height="8.69" fill="#682207"/>
<rect x="122.58" y="720.44" width="15.29" height="8.69" fill="#712406"/>
<rect x="137.86" y="720.44" width="15.29" height="8.69" fill="#712406"/>
<rect x="153.15" y="720.44" width="15.29" height="8.69" fill="#762505"/>
<rect x="168.44" y="720.44" width="15.29" height="8.69" fill="#a43503"/>
<rect x="183.73" y="720.44" width="15.29" height="8.69" fill="#d94801"/>
<rect x="199.01" y="720.44" width="15.29" height="8.69" fill="#983103"/>
<rect x="214.3" y="720.44" width="15.29" height="8.69" fill="#bc3e02"/>
<rect x="229.59" y="720.44" width="15.29" height="8.69" fill="#bc3e02"/>
<rect x="244.88" y="720.44" width="15.29" height="8.69" fill="#b43b02"/>
<rect x="260.16" y="720.44" width="15.29" height="8.69" fill="#b43b02"/>
<rect x="275.45" y="720.44" width="15.29" height="8.69" fill="#a43503"/>
<rect x="290.74" y="720.44" width="15.29" height="8.69" fill="#ac3803"/>
<rect x="306.03" y="720.44" width="15.29" height="8.69" fill="#bc3e02"/>
<rect x="321.31" y="720.44" width="15.29" height="8.69" fill="#ee6511"/>
<rect x="336.6" y="720.44" width="15.29" height="8.69" fill="#e35508"/>
<rect x="351.89" y="720.44" width="15.29" height="8.69" fill="#b43b02"/>
<rect x="367.18" y="720.44" width="15.29" height="8.69" fill="#f16a15"/>
<rect x="382.46" y="720.44" width="15.29" height="8.69" fill="#ea600e"/>
<rect x="397.75" y="720.44" width="15.29" height="8.69" fill="#e35508"/>
<rect x="413.04" y="720.44" width="15.29" height="8.69" fill="#fd8d3c"/>
<rect x="428.33" y="720.44" width="15.29" height="8.69" fill="#f3701b"/>
<rect x="443.61" y="720.44" width="15.29" height="8.69" fill="#f57622"/>
<rect x="458.9" y="720.44" width="15.29" height="8.69" fill="#f57622"/>
<rect x="474.19" y="720.44" width="15.29" height="8.69" fill="#ea600e"/>
<rect x="489.48" y="720.44" width="15.29" height="8.69" fill="#fd9d53"/>
<rect x="504.76" y="720.44" width="15.29" height="8.69" fill="#f9812f"/>
<rect x="520.05" y="720.44" width="15.29" height="8.69" fill="#e35508"/>
<rect x="535.34" y="720.44" width="15.29" height="8.69" fill="#db4b02"/>
<rect x="550.62" y="720.44" width="15.29" height="8.69" fill="#d54701"/>
<rect x="565.91" y="720.44" width="15.29" height="8.69" fill="#df5005"/>
<rect x="92" y="729.13" width="15.29" height="8.69" fill="#fdbd83"/>
<rect x="107.29" y="729.13" width="15.29" height="8.69" fill="#fdcd9e"/>
<rect x="122.58" y="729.13" width="15.29" height="8.69" fill="#fdc895"/>
<rect x="137.86" y="729.13" width="15.29" height="8.69" fill="#fdc895"/>
<rect x="153.15" y="729.13" width="15.29" height="8.69" fill="#fdc895"/>
<rect x="168.44" y="729.13" width="15.29" height="8.69" fill="#fdcd9e"/>
<rect x="183.73" y="729.13" width="15.29" height="8.69" fill="#fdcd9e"/>
<rect x="199.01" y="729.13" width="15.29" height="8.69" fill="#fdd2a6"/>
<rect x="214.3" y="729.13" width="15.29" height="8.69" fill="#fdcd9e"/>
<rect x="229.59" y="729.13" width="15.29" height="8.69" fill="#fdc895"/>
<rect x="244.88" y="729.13" width="15.29" height="8.69" fill="#fdcb99"/>
<rect x="260.16" y="729.13" width="15.29" height="8.69" fill="#fdcd9e"/>
<rect x="275.45" y="729.13" width="15.29" height="8.69" fill="#fdd5ad"/>
<rect x="290.74" y="729.13" width="15.29" height="8.69" fill="#fdcb99"/>
<rect x="306.03" y="729.13" width="15.29" height="8.69" fill="#fdcb99"/>
<rect x="321.31" y="729.13" width="15.29" height="8.69" fill="#fdc28c"/>
<rect x="336.6" y="729.13" width="15.29" height="8.69" fill="#fdc28c"/>
<rect x="351.89" y="729.13" width="15.29" height="8.69" fill="#fdd9b4"/>
<rect x="367.18" y="729.13" width="15.29" height="8.69" fill="#fdc895"/>
<rect x="382.46" y="729.13" width="15.29" height="8.69" fill="#fdc895"/>
<rect x="397.75" y="729.13" width="15.29" height="8.69" fill="#fdc895"/>
<rect x="413.04" y="729.13" width="15.29" height="8.69" fill="#fdc28c"/>
<rect x="428.33" y="729.13" width="15.29" height="8.69" fill="#fdc895"/>
<rect x="443.61" y="729.13" width="15.29" height="8.69" fill="#fdbd83"/>
<rect x="458.9" y="729.13" width="15.29" height="8.69" fill="#fdcd9e"/>
<rect x="474.19" y="729.13" width="15.29" height="8.69" fill="#fdc895"/>
<rect x="489.48" y="729.13" width="15.29" height="8.69" fill="#fdbd83"/>
<rect x="504.76" y="729.13" width="15.29" height="8.69" fill="#fdb87a"/>
<rect x="520.05" y="729.13" width="15.29" height="8.69" fill="#fdbd83"/>
<rect x="535.34" y="729.13" width="15.29" height="8.69" fill="#fdb87a"/>
<rect x="550.62" y="729.13" width="15.29" height="8.69" fill="#fdb272"/>
<rect x="565.91" y="729.13" width="15.29" height="8.69" fill="#fdbd83"/>
<rect x="92" y="737.82" width="15.29" height="8.69" fill="#fdb272"/>
<rect x="107.29" y="737.82" width="15.29" height="8.69" fill="#fda762"/>
<rect x="122.58" y="737.82" width="15.29" height="8.69" fill="#fdb576"/>
<rect x="137.86" y="737.82" width="15.29" height="8.69" fill="#fdad69"/>
<rect x="153.15" y="737.82" width="15.29" height="8.69" fill="#fda762"/>
<rect x="168.44" y="737.82" width="15.29" height="8.69" fill="#fdb272"/>
<rect x="183.73" y="737.82" width="15.29" height="8.69" fill="#fdb272"/>
<rect x="199.01" y="737.82" width="15.29" height="8.69" fill="#fda762"/>
<rect x="214.3" y="737.82" width="15.29" height="8.69" fill="#fdb272"/>
<rect x="229.59" y="737.82" width="15.29" height="8.69" fill="#fdb272"/>
<rect x="244.88" y="737.82" width="15.29" height="8.69" fill="#fdba7f"/>
<rect x="260.16" y="737.82" width="15.29" height="8.69" fill="#fdad69"/>
<rect x="275.45" y="737.82" width="15.29" height="8.69" fill="#fdba7f"/>
<rect x="290.74" y="737.82" width="15.29" height="8.69" fill="#fdba7f"/>
<rect x="306.03" y="737.82" width="15.29" height="8.69" fill="#fdad69"/>
<rect x="321.31" y="737.82" width="15.29" height="8.69" fill="#fdc895"/>
<rect x="336.6" y="737.82" width="15.29" height="8.69" fill="#fdc895"/>
<rect x="351.89" y="737.82" width="15.29" height="8.69" fill="#fdb272"/>
<rect x="367.18" y="737.82" width="15.29" height="8.69" fill="#fdc895"/>
<rect x="382.46" y="737.82" width="15.29" height="8.69" fill="#fdc28c"/>
<rect x="397.75" y="737.82" width="15.29" height="8.69" fill="#fdb87a"/>
<rect x="413.04" y="737.82" width="15.29" height="8.69" fill="#fdcd9e"/>
<rect x="428.33" y="737.82" width="15.29" height="8.69" fill="#fdbd83"/>
<rect x="443.61" y="737.82" width="15.29" height="8.69" fill="#fdc895"/>
<rect x="458.9" y="737.82" width="15.29" height="8.69" fill="#fdcd9e"/>
<rect x="474.19" y="737.82" width="15.29" height="8.69" fill="#fdc28c"/>
<rect x="489.48" y="737.82" width="15.29" height="8.69" fill="#fedcbb"/>
<rect x="504.76" y="737.82" width="15.29" height="8.69" fill="#fdd9b4"/>
<rect x="520.05" y="737.82" width="15.29" height="8.69" fill="#fdcd9e"/>
<rect x="535.34" y="737.82" width="15.29" height="8.69" fill="#fdd2a6"/>
<rect x="550.62" y="737.82" width="15.29" height="8.69" fill="#fdd2a6"/>
<rect x="565.91" y="737.82" width="15.29" height="8.69" fill="#fdd5ad"/>
<rect x="92" y="746.52" width="15.29" height="8.69" fill="#fdaf6d"/>
<rect x="107.29" y="746.52" width="15.29" height="8.69" fill="#fdba7f"/>
<rect x="122.58" y="746.52" width="15.29" height="8.69" fill="#fdb272"/>
<rect x="137.86" y="746.52" width="15.29" height="8.69" fill="#fdad69"/>
<rect x="153.15" y="746.52" width="15.29" height="8.69" fill="#fdba7f"/>
<rect x="168.44" y="746.52" width="15.29" height="8.69" fill="#fdbd83"/>
<rect x="183.73" y="746.52" width="15.29" height="8.69" fill="#fdb576"/>
<rect x="199.01" y="746.52" width="15.29" height="8.69" fill="#fdba7f"/>
<rect x="214.3" y="746.52" width="15.29" height="8.69" fill="#fdbd83"/>
<rect x="229.59" y="746.52" width="15.29" height="8.69" fill="#fdad69"/>
<rect x="244.88" y="746.52" width="15.29" height="8.69" fill="#fdbd83"/>
<rect x="260.16" y="746.52" width="15.29" height="8.69" fill="#fdbd83"/>
<rect x="275.45" y="746.52" width="15.29" height="8.69" fill="#fdbd83"/>
<rect x="290.74" y="746.52" width="15.29" height="8.69" fill="#fdc28c"/>
<rect x="306.03" y="746.52" width="15.29" height="8.69" fill="#fdbd83"/>
<rect x="321.31" y="746.52" width="15.29" height="8.69" fill="#fdc28c"/>
<rect x="336.6" y="746.52" width="15.29" height="8.69" fill="#fdc895"/>
<rect x="351.89" y="746.52" width="15.29" height="8.69" fill="#fdc28c"/>
<rect x="367.18" y="746.52" width="15.29" height="8.69" fill="#fdc28c"/>
<rect x="382.46" y="746.52" width="15.29" height="8.69" fill="#fdc28c"/>
<rect x="397.75" y="746.52" width="15.29" height="8.69" fill="#fdc895"/>
<rect x="413.04" y="746.52" width="15.29" height="8.69" fill="#fdd2a6"/>
<rect x="428.33" y="746.52" width="15.29" height="8.69" fill="#fdc895"/>
<rect x="443.61" y="746.52" width="15.29" height="8.69" fill="#fdcd9e"/>
<rect x="458.9" y="746.52" width="15.29" height="8.69" fill="#fdd2a6"/>
<rect x="474.19" y="746.52" width="15.29" height="8.69" fill="#fdcd9e"/>
<rect x="489.48" y="746.52" width="15.29" height="8.69" fill="#fdd2a6"/>
<rect x="504.76" y="746.52" width="15.29" height="8.69" fill="#fdd2a6"/>
<rect x="520.05" y="746.52" width="15.29" height="8.69" fill="#fdcd9e"/>
<rect x="535.34" y="746.52" width="15.29" height="8.69" fill="#fdd2a6"/>
<rect x="550.62" y="746.52" width="15.29" height="8.69" fill="#fdd5ad"/>
<rect x="565.91" y="746.52" width="15.29" height="8.69" fill="#fdd5ad"/>
<rect x="92" y="755.21" width="15.29" height="8.69" fill="#fdd5ad"/>
<rect x="107.29" y="755.21" width="15.29" height="8.69" fill="#fedcbb"/>
<rect x="122.58" y="755.21" width="15.29" height="8.69" fill="#fdd9b4"/>
<rect x="137.86" y="755.21" width="15.29" height="8.69" fill="#fedcbb"/>
<rect x="153.15" y="755.21" width="15.29" height="8.69" fill="#fdd2a6"/>
<rect x="168.44" y="755.21" width="15.29" height="8.69" fill="#fdd5ad"/>
<rect x="183.73" y="755.21" width="15.29" height="8.69" fill="#fdd2a6"/>
<rect x="199.01" y="755.21" width="15.29" height="8.69" fill="#fdd2a6"/>
<rect x="214.3" y="755.21" width="15.29" height="8.69" fill="#fdd9b4"/>
<rect x="229.59" y="755.21" width="15.29" height="8.69" fill="#fee0c2"/>
<rect x="244.88" y="755.21" width="15.29" height="8.69" fill="#fdc28c"/>
<rect x="260.16" y="755.21" width="15.29" height="8.69" fill="#fdcd9e"/>
<rect x="275.45" y="755.21" width="15.29" height="8.69" fill="#fdd2a6"/>
<rect x="290.74" y="755.21" width="15.29" height="8.69" fill="#fdd2a6"/>
<rect x="306.03" y="755.21" width="15.29" height="8.69" fill="#fdcd9e"/>
<rect x="321.31" y="755.21" width="15.29" height="8.69" fill="#fdc895"/>
<rect x="336.6" y="755.21" width="15.29" height="8.69" fill="#fdd2a6"/>
<rect x="351.89" y="755.21" width="15.29" height="8.69" fill="#fdcd9e"/>
<rect x="367.18" y="755.21" width="15.29" height="8.69" fill="#fdcd9e"/>
<rect x="382.46" y="755.21" width="15.29" height="8.69" fill="#fdc895"/>
<rect x="397.75" y="755.21" width="15.29" height="8.69" fill="#fdc895"/>
<rect x="413.04" y="755.21" width="15.29" height="8.69" fill="#fdd5ad"/>
<rect x="428.33" y="755.21" width="15.29" height="8.69" fill="#fdd5ad"/>
<rect x="443.61" y="755.21" width="15.29" height="8.69" fill="#fdcd9e"/>
<rect x="458.9" y="755.21" width="15.29" height="8.69" fill="#fdd5ad"/>
<rect x="474.19" y="755.21" width="15.29" height="8.69" fill="#fdcd9e"/>
<rect x="489.48" y="755.21" width="15.29" height="8.69" fill="#fdcd9e"/>
<rect x="504.76" y="755.21" width="15.29" height="8.69" fill="#fdd5ad"/>
<rect x="520.05" y="755.21" width="15.29" height="8.69" fill="#fdd9b4"/>
<rect x="535.34" y="755.21" width="15.29" height="8.69" fill="#fdd9b4"/>
<rect x="550.62" y="755.21" width="15.29" height="8.69" fill="#fedcbb"/>
<rect x="565.91" y="755.21" width="15.29" height="8.69" fill="#fdd5ad"/>
<rect x="92" y="763.91" width="15.29" height="8.69" fill="#f16a15"/>
<rect x="107.29" y="763.91" width="15.29" height="8.69" fill="#f3701b"/>
<rect x="122.58" y="763.91" width="15.29" height="8.69" fill="#ec620f"/>
<rect x="137.86" y="763.91" width="15.29" height="8.69" fill="#f3701b"/>
<rect x="153.15" y="763.91" width="15.29" height="8.69" fill="#f16a15"/>
<rect x="168.44" y="763.91" width="15.29" height="8.69" fill="#ea600e"/>
<rect x="183.73" y="763.91" width="15.29" height="8.69" fill="#f3701b"/>
<rect x="199.01" y="763.91" width="15.29" height="8.69" fill="#ee6511"/>
<rect x="214.3" y="763.91" width="15.29" height="8.69" fill="#ee6511"/>
<rect x="229.59" y="763.91" width="15.29" height="8.69" fill="#a43503"/>
<rect x="244.88" y="763.91" width="15.29" height="8.69" fill="#f16a15"/>
<rect x="260.16" y="763.91" width="15.29" height="8.69" fill="#ea600e"/>
<rect x="275.45" y="763.91" width="15.29" height="8.69" fill="#d54701"/>
<rect x="290.74" y="763.91" width="15.29" height="8.69" fill="#ee6511"/>
<rect x="306.03" y="763.91" width="15.29" height="8.69" fill="#ea600e"/>
<rect x="321.31" y="763.91" width="15.29" height="8.69" fill="#ee6511"/>
<rect x="336.6" y="763.91" width="15.29" height="8.69" fill="#f16a15"/>
<rect x="351.89" y="763.91" width="15.29" height="8.69" fill="#e35508"/>
<rect x="367.18" y="763.91" width="15.29" height="8.69" fill="#e65a0b"/>
<rect x="382.46" y="763.91" width="15.29" height="8.69" fill="#9e3303"/>
<rect x="397.75" y="763.91" width="15.29" height="8.69" fill="#ea600e"/>
<rect x="413.04" y="763.91" width="15.29" height="8.69" fill="#e35508"/>
<rect x="428.33" y="763.91" width="15.29" height="8.69" fill="#df5005"/>
<rect x="443.61" y="763.91" width="15.29" height="8.69" fill="#e65a0b"/>
<rect x="458.9" y="763.91" width="15.29" height="8.69" fill="#d54701"/>
<rect x="474.19" y="763.91" width="15.29" height="8.69" fill="#e65a0b"/>
<rect x="489.48" y="763.91" width="15.29" height="8.69" fill="#bc3e02"/>
<rect x="504.76" y="763.91" width="15.29" height="8.69" fill="#e35508"/>
<rect x="520.05" y="763.91" width="15.29" height="8.69" fill="#f3701b"/>
<rect x="535.34" y="763.91" width="15.29" height="8.69" fill="#ee6511"/>
<rect x="550.62" y="763.91" width="15.29" height="8.69" fill="#ee6511"/>
<rect x="565.91" y="763.91" width="15.29" height="8.69" fill="#e65a0b"/>
</g>
<g stroke="#fff" stroke-width="0.7" stroke-opacity="0.85">
<path d="M107.29 624.8V772.6"/>
<path d="M122.58 624.8V772.6"/>
<path d="M137.86 624.8V772.6"/>
<path d="M153.15 624.8V772.6"/>
<path d="M168.44 624.8V772.6"/>
<path d="M183.73 624.8V772.6"/>
<path d="M199.01 624.8V772.6"/>
<path d="M214.3 624.8V772.6"/>
<path d="M229.59 624.8V772.6"/>
<path d="M244.88 624.8V772.6"/>
<path d="M260.16 624.8V772.6"/>
<path d="M275.45 624.8V772.6"/>
<path d="M290.74 624.8V772.6"/>
<path d="M306.03 624.8V772.6"/>
<path d="M321.31 624.8V772.6"/>
<path d="M336.6 624.8V772.6"/>
<path d="M351.89 624.8V772.6"/>
<path d="M367.18 624.8V772.6"/>
<path d="M382.46 624.8V772.6"/>
<path d="M397.75 624.8V772.6"/>
<path d="M413.04 624.8V772.6"/>
<path d="M428.33 624.8V772.6"/>
<path d="M443.61 624.8V772.6"/>
<path d="M458.9 624.8V772.6"/>
<path d="M474.19 624.8V772.6"/>
<path d="M489.48 624.8V772.6"/>
<path d="M504.76 624.8V772.6"/>
<path d="M520.05 624.8V772.6"/>
<path d="M535.34 624.8V772.6"/>
<path d="M550.62 624.8V772.6"/>
<path d="M565.91 624.8V772.6"/>
<path d="M92 633.49H581.2"/>
<path d="M92 642.19H581.2"/>
<path d="M92 650.88H581.2"/>
<path d="M92 659.58H581.2"/>
<path d="M92 668.27H581.2"/>
<path d="M92 676.96H581.2"/>
<path d="M92 685.66H581.2"/>
<path d="M92 694.35H581.2"/>
<path d="M92 703.05H581.2"/>
<path d="M92 711.74H581.2"/>
<path d="M92 720.44H581.2"/>
<path d="M92 729.13H581.2"/>
<path d="M92 737.82H581.2"/>
<path d="M92 746.52H581.2"/>
<path d="M92 755.21H581.2"/>
<path d="M92 763.91H581.2"/>
</g>
<g font-size="6" text-anchor="end" fill="#1c1c1c" stroke="#1c1c1c" stroke-width="0.12">
<text x="88.2" y="631.3" textLength="61.42" lengthAdjust="spacingAndGlyphs" transform="rotate(0.03 88.2 631.3)">rs8099917|Interferons</text>
<text x="88.2" y="639.99" textLength="44.4" lengthAdjust="spacingAndGlyphs" transform="rotate(0.03 88.2 639.99)">rs7294|Warfarin</text>
<text x="88.2" y="648.69" textLength="90.1" lengthAdjust="spacingAndGlyphs" transform="rotate(0.03 88.2 648.69)">rs7270101|Peginterferon alfa-2b</text>
<text x="88.2" y="657.38" textLength="67.72" lengthAdjust="spacingAndGlyphs" transform="rotate(0.03 88.2 657.38)">rs4149056|Rosuvastatin</text>
<text x="88.2" y="666.07" textLength="75.76" lengthAdjust="spacingAndGlyphs" transform="rotate(0.03 88.2 666.07)">rs3812718|Carbamazepine</text>
<text x="88.2" y="674.77" textLength="54.89" lengthAdjust="spacingAndGlyphs" transform="rotate(0.03 88.2 674.77)">rs2359612|Warfarin</text>
<text x="88.2" y="683.46" textLength="55.48" lengthAdjust="spacingAndGlyphs" transform="rotate(0.03 88.2 683.46)">rs2242480|Fentanyl</text>
<text x="88.2" y="692.16" textLength="54.89" lengthAdjust="spacingAndGlyphs" transform="rotate(0.03 88.2 692.16)">rs2108622|Warfarin</text>
<text x="88.2" y="700.85" textLength="55.83" lengthAdjust="spacingAndGlyphs" transform="rotate(0.03 88.2 700.85)">rs20455|Pravastatin</text>
<text x="88.2" y="709.54" textLength="64.22" lengthAdjust="spacingAndGlyphs" transform="rotate(0.03 88.2 709.54)">rs1801265|Fluorouracil</text>
<text x="88.2" y="718.24" textLength="67.61" lengthAdjust="spacingAndGlyphs" transform="rotate(0.03 88.2 718.24)">rs1801159|Capecitabine</text>
<text x="88.2" y="726.93" textLength="67.6" lengthAdjust="spacingAndGlyphs" transform="rotate(0.03 88.2 726.93)">rs1801133|Methotrexate</text>
<text x="88.2" y="735.63" textLength="67.71" lengthAdjust="spacingAndGlyphs" transform="rotate(0.03 88.2 735.63)">rs17376848|Fluorouracil</text>
<text x="88.2" y="744.32" textLength="57.58" lengthAdjust="spacingAndGlyphs" transform="rotate(0.03 88.2 744.32)">rs16969968|Nicotine</text>
<text x="88.2" y="753.01" textLength="58.39" lengthAdjust="spacingAndGlyphs" transform="rotate(0.03 88.2 753.01)">rs12777823|Warfarin</text>
<text x="88.2" y="761.71" textLength="81.59" lengthAdjust="spacingAndGlyphs" transform="rotate(0.03 88.2 761.71)">rs116855232|Mercaptopurine</text>
<text x="88.2" y="770.4" textLength="61.42" lengthAdjust="spacingAndGlyphs" transform="rotate(0.03 88.2 770.4)">rs1042713|Salmeterol</text>
</g>
<g font-size="8.4" text-anchor="end" fill="#222">
<text x="100.94" y="778.2" textLength="57.55" lengthAdjust="spacingAndGlyphs" transform="rotate(-44.47 100.94 778.2)">Baja California</text>
<text x="116.23" y="778.2" textLength="73.78" lengthAdjust="spacingAndGlyphs" transform="rotate(-44.47 116.23 778.2)">Baja California Sur</text>
<text x="131.52" y="778.2" textLength="28.54" lengthAdjust="spacingAndGlyphs" transform="rotate(-44.47 131.52 778.2)">Sonora</text>
<text x="146.81" y="778.2" textLength="29.52" lengthAdjust="spacingAndGlyphs" transform="rotate(-44.47 146.81 778.2)">Sinaloa</text>
<text x="162.09" y="778.2" textLength="42.81" lengthAdjust="spacingAndGlyphs" transform="rotate(-44.47 162.09 778.2)">Chihuahua</text>
<text x="177.38" y="778.2" textLength="33.95" lengthAdjust="spacingAndGlyphs" transform="rotate(-44.47 177.38 778.2)">Durango</text>
<text x="192.67" y="778.2" textLength="34.93" lengthAdjust="spacingAndGlyphs" transform="rotate(-44.47 192.67 778.2)">Coahuila</text>
<text x="207.96" y="778.2" textLength="28.03" lengthAdjust="spacingAndGlyphs" transform="rotate(-44.47 207.96 778.2)">Nayarit</text>
<text x="223.24" y="778.2" textLength="40.82" lengthAdjust="spacingAndGlyphs" transform="rotate(-44.47 223.24 778.2)">Zacatecas</text>
<text x="238.53" y="778.2" textLength="47.73" lengthAdjust="spacingAndGlyphs" transform="rotate(-44.47 238.53 778.2)">Nuevo Leon</text>
<text x="253.82" y="778.2" textLength="44.76" lengthAdjust="spacingAndGlyphs" transform="rotate(-44.47 253.82 778.2)">Tamaulipas</text>
<text x="269.11" y="778.2" textLength="27.05" lengthAdjust="spacingAndGlyphs" transform="rotate(-44.47 269.11 778.2)">Jalisco</text>
<text x="284.39" y="778.2" textLength="60.02" lengthAdjust="spacingAndGlyphs" transform="rotate(-44.47 284.39 778.2)">Aguascalientes</text>
<text x="299.68" y="778.2" textLength="27.54" lengthAdjust="spacingAndGlyphs" transform="rotate(-44.47 299.68 778.2)">Colima</text>
<text x="314.97" y="778.2" textLength="45.76" lengthAdjust="spacingAndGlyphs" transform="rotate(-44.47 314.97 778.2)">Guanajuato</text>
<text x="330.26" y="778.2" textLength="61.49" lengthAdjust="spacingAndGlyphs" transform="rotate(-44.47 330.26 778.2)">San Luis Potosi</text>
<text x="345.54" y="778.2" textLength="39.84" lengthAdjust="spacingAndGlyphs" transform="rotate(-44.47 345.54 778.2)">Queretaro</text>
<text x="360.83" y="778.2" textLength="42.8" lengthAdjust="spacingAndGlyphs" transform="rotate(-44.47 360.83 778.2)">Michoacan</text>
<text x="376.12" y="778.2" textLength="30.01" lengthAdjust="spacingAndGlyphs" transform="rotate(-44.47 376.12 778.2)">Hidalgo</text>
<text x="391.41" y="778.2" textLength="37.38" lengthAdjust="spacingAndGlyphs" transform="rotate(-44.47 391.41 778.2)">Edo. Mex</text>
<text x="406.69" y="778.2" textLength="44.26" lengthAdjust="spacingAndGlyphs" transform="rotate(-44.47 406.69 778.2)">Cd. Mexico</text>
<text x="421.98" y="778.2" textLength="27.56" lengthAdjust="spacingAndGlyphs" transform="rotate(-44.47 421.98 778.2)">Puebla</text>
<text x="437.27" y="778.2" textLength="31.47" lengthAdjust="spacingAndGlyphs" transform="rotate(-44.47 437.27 778.2)">Morelos</text>
<text x="452.56" y="778.2" textLength="32.95" lengthAdjust="spacingAndGlyphs" transform="rotate(-44.47 452.56 778.2)">Tlaxcala</text>
<text x="467.84" y="778.2" textLength="34.92" lengthAdjust="spacingAndGlyphs" transform="rotate(-44.47 467.84 778.2)">Veracruz</text>
<text x="483.13" y="778.2" textLength="35.41" lengthAdjust="spacingAndGlyphs" transform="rotate(-44.47 483.13 778.2)">Guerrero</text>
<text x="498.42" y="778.2" textLength="30.5" lengthAdjust="spacingAndGlyphs" transform="rotate(-44.47 498.42 778.2)">Oaxaca</text>
<text x="513.71" y="778.2" textLength="32.47" lengthAdjust="spacingAndGlyphs" transform="rotate(-44.47 513.71 778.2)">Chiapas</text>
<text x="528.99" y="778.2" textLength="32.96" lengthAdjust="spacingAndGlyphs" transform="rotate(-44.47 528.99 778.2)">Tabasco</text>
<text x="544.28" y="778.2" textLength="42.8" lengthAdjust="spacingAndGlyphs" transform="rotate(-44.47 544.28 778.2)">Campeche</text>
<text x="559.57" y="778.2" textLength="31.98" lengthAdjust="spacingAndGlyphs" transform="rotate(-44.47 559.57 778.2)">Yucatan</text>
<text x="574.86" y="778.2" textLength="54.61" lengthAdjust="spacingAndGlyphs" transform="rotate(-44.47 574.86 778.2)">Quintana Roo</text>
</g>
<defs><linearGradient id="og" x1="0" y1="1" x2="0" y2="0">
<stop offset="0" stop-color="#fee9d4"/>
<stop offset="0.05" stop-color="#fee2c7"/>
<stop offset="0.1" stop-color="#fddbb7"/>
<stop offset="0.15" stop-color="#fdd3a7"/>
<stop offset="0.2" stop-color="#fdc895"/>
<stop offset="0.25" stop-color="#fdbc81"/>
<stop offset="0.3" stop-color="#fdaf6d"/>
<stop offset="0.35" stop-color="#fda35c"/>
<stop offset="0.4" stop-color="#fd984b"/>
<stop offset="0.45" stop-color="#fd8c3a"/>
<stop offset="0.5" stop-color="#f87f2c"/>
<stop offset="0.55" stop-color="#f4721d"/>
<stop offset="0.6" stop-color="#ee6511"/>
<stop offset="0.65" stop-color="#e5590a"/>
<stop offset="0.7" stop-color="#dd4d04"/>
<stop offset="0.75" stop-color="#cf4401"/>
<stop offset="0.8" stop-color="#bc3e02"/>
<stop offset="0.85" stop-color="#aa3703"/>
<stop offset="0.9" stop-color="#9b3203"/>
<stop offset="0.95" stop-color="#8d2c04"/>
<stop offset="1" stop-color="#7f2704"/>
</linearGradient></defs>
<rect x="604.1" y="652" width="23.1" height="113.7" fill="url(#og)"/>
<g stroke="#fff" stroke-width="0.5" stroke-opacity="0.8">
<path d="M604.1 655.8h4.6M627.2 655.8h-4.6"/>
<path d="M604.1 693.4h4.6M627.2 693.4h-4.6"/>
<path d="M604.1 730.6h4.6M627.2 730.6h-4.6"/>
</g>
<g font-size="7.3" fill="#222">
<text x="630.8" y="658.4" transform="rotate(0.03 630.8 658.4)">0.6</text>
<text x="630.8" y="696" transform="rotate(0.03 630.8 696)">0.4</text>
<text x="630.8" y="733.2" transform="rotate(0.03 630.8 733.2)">0.2</text>
</g>
<text x="595.3" y="644.5" font-size="8.3" textLength="41" lengthAdjust="spacingAndGlyphs" transform="rotate(0.03 595.3 644.5)">Allele freq</text>
</g>
</svg>
</body></html>
